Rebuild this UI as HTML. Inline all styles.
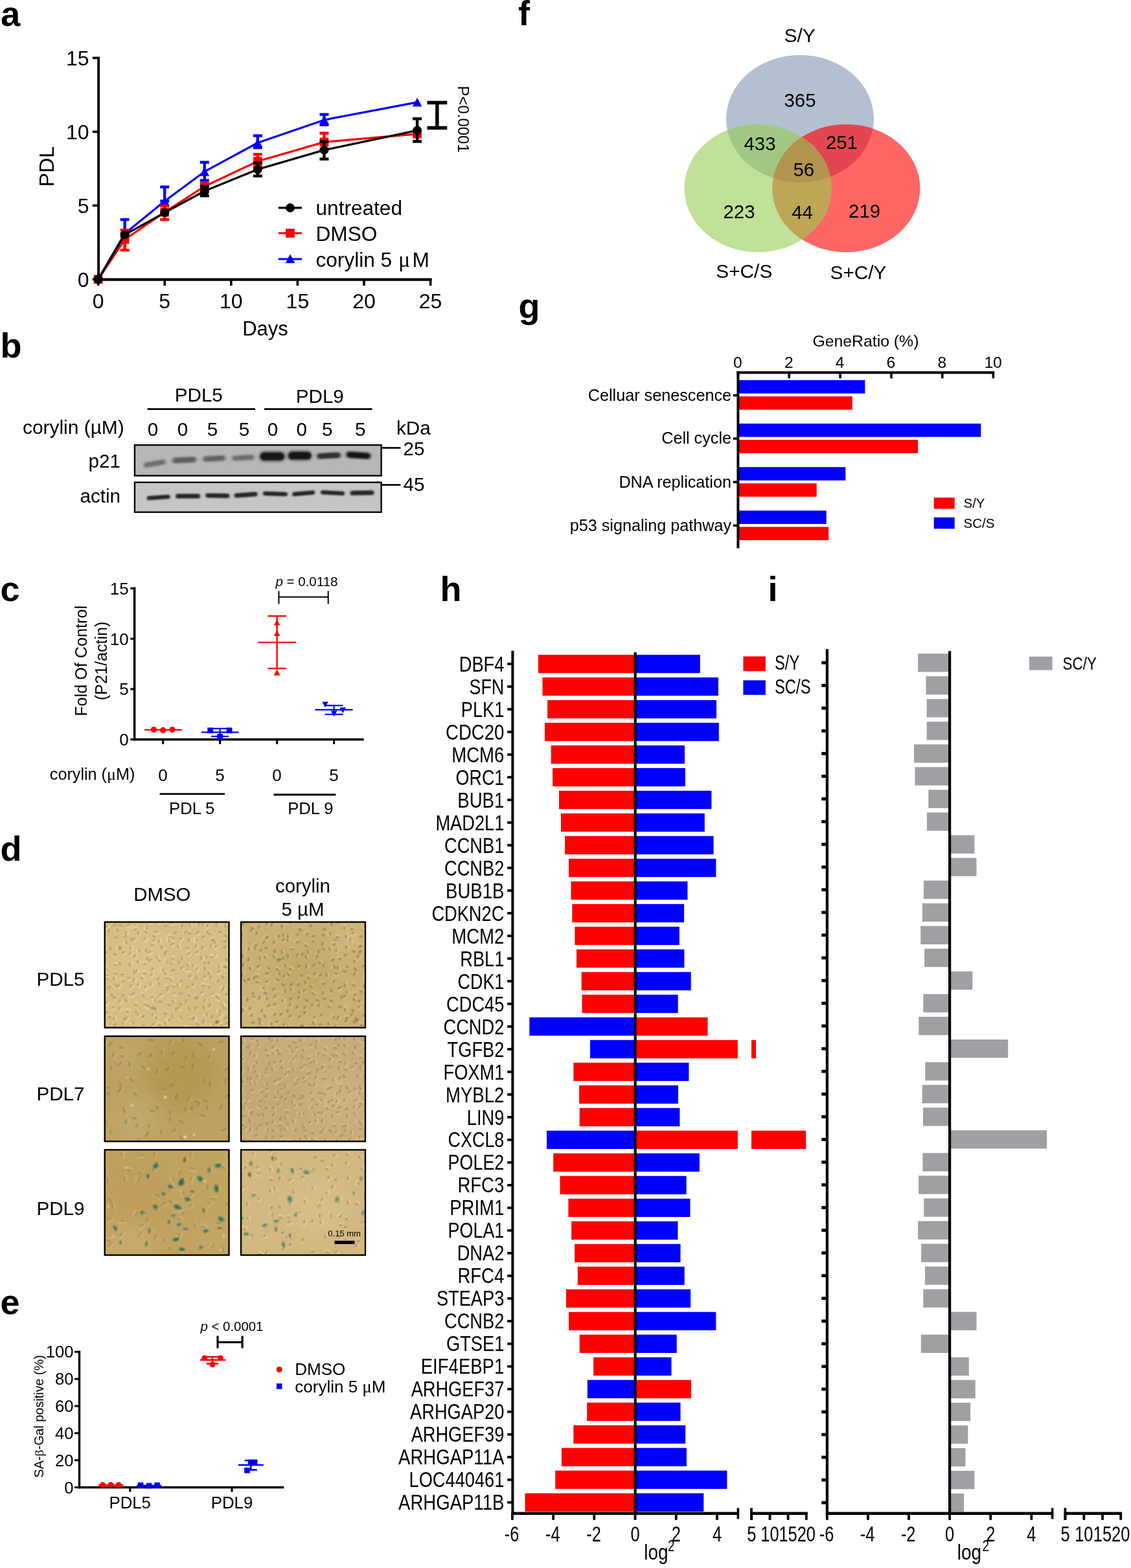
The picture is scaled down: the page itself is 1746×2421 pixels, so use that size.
<!DOCTYPE html>
<html lang="en"><head><meta charset="utf-8"><title>Figure</title>
<style>
html,body{margin:0;padding:0;background:#fff;}
body{width:1746px;height:2421px;overflow:hidden;}
svg{display:block;}
text{font-family:"Liberation Sans",sans-serif;fill:#000;}
</style></head><body>
<svg width="1746" height="2421" viewBox="0 0 1746 2421">
<defs>
<filter id="blur1" x="-30%" y="-100%" width="160%" height="300%"><feGaussianBlur stdDeviation="2.2 1.6"/></filter>
<filter id="blur2" x="-30%" y="-100%" width="160%" height="300%"><feGaussianBlur stdDeviation="1.6 1.1"/></filter>
<filter id="blurc" x="-5%" y="-5%" width="110%" height="110%"><feGaussianBlur stdDeviation="0.8"/></filter>
<filter id="blurc2" x="-5%" y="-5%" width="110%" height="110%"><feGaussianBlur stdDeviation="1.1"/></filter>
<filter id="blurc3" x="-5%" y="-5%" width="110%" height="110%"><feGaussianBlur stdDeviation="1.25"/></filter>
<filter id="blurbig" x="-50%" y="-50%" width="200%" height="200%"><feGaussianBlur stdDeviation="14"/></filter>
<filter id="noise" x="0" y="0" width="100%" height="100%">
<feTurbulence type="fractalNoise" baseFrequency="0.9" numOctaves="2" seed="3" result="n"/>
<feColorMatrix in="n" type="matrix" values="0 0 0 0 0  0 0 0 0 0  0 0 0 0 0  0.5 0.5 0 0 -0.42"/>
</filter>
<clipPath id="vtop"><ellipse cx="1235" cy="183.3" rx="114" ry="98.4"/></clipPath>
<clipPath id="vleft"><ellipse cx="1170.2" cy="290.7" rx="113.8" ry="98.8"/></clipPath>
<clipPath id="vright"><ellipse cx="1306.4" cy="290.7" rx="114" ry="98.8"/></clipPath>
</defs>

<text x="1" y="39.8" font-size="54.4" font-weight="bold">a</text>
<line x1="192.64" y1="339" x2="192.64" y2="360.65" stroke="#0000ff" stroke-width="4.4"/>
<line x1="185.64" y1="339" x2="199.64" y2="339" stroke="#0000ff" stroke-width="4.4"/>
<line x1="185.64" y1="360.65" x2="199.64" y2="360.65" stroke="#0000ff" stroke-width="4.4"/>
<line x1="254.2" y1="288.63" x2="254.2" y2="310.51" stroke="#0000ff" stroke-width="4.4"/>
<line x1="247.2" y1="288.63" x2="261.2" y2="288.63" stroke="#0000ff" stroke-width="4.4"/>
<line x1="247.2" y1="310.51" x2="261.2" y2="310.51" stroke="#0000ff" stroke-width="4.4"/>
<line x1="315.76" y1="250.58" x2="315.76" y2="278.61" stroke="#0000ff" stroke-width="4.4"/>
<line x1="308.76" y1="250.58" x2="322.76" y2="250.58" stroke="#0000ff" stroke-width="4.4"/>
<line x1="308.76" y1="278.61" x2="322.76" y2="278.61" stroke="#0000ff" stroke-width="4.4"/>
<line x1="397.84" y1="209.55" x2="397.84" y2="228.01" stroke="#0000ff" stroke-width="4.4"/>
<line x1="390.84" y1="209.55" x2="404.84" y2="209.55" stroke="#0000ff" stroke-width="4.4"/>
<line x1="390.84" y1="228.01" x2="404.84" y2="228.01" stroke="#0000ff" stroke-width="4.4"/>
<line x1="500.44" y1="176.74" x2="500.44" y2="192.69" stroke="#0000ff" stroke-width="4.4"/>
<line x1="493.44" y1="176.74" x2="507.44" y2="176.74" stroke="#0000ff" stroke-width="4.4"/>
<line x1="493.44" y1="192.69" x2="507.44" y2="192.69" stroke="#0000ff" stroke-width="4.4"/>
<polyline fill="none" stroke="#0000ff" stroke-width="3.2" stroke-linejoin="round" points="151.6,431.3 192.64,360.65 254.2,310.51 315.76,264.93 397.84,220.49 500.44,185.17 644.08,157.82"/>
<polygon points="151.6,424.17 144.3,438.04 158.9,438.04" fill="#0000ff"/>
<polygon points="192.64,353.52 185.34,367.39 199.94,367.39" fill="#0000ff"/>
<polygon points="254.2,303.38 246.9,317.25 261.5,317.25" fill="#0000ff"/>
<polygon points="315.76,257.8 308.46,271.67 323.06,271.67" fill="#0000ff"/>
<polygon points="397.84,213.36 390.54,227.23 405.14,227.23" fill="#0000ff"/>
<polygon points="500.44,178.04 493.14,191.91 507.74,191.91" fill="#0000ff"/>
<polygon points="644.08,150.69 636.78,164.56 651.38,164.56" fill="#0000ff"/>
<line x1="192.64" y1="355.18" x2="192.64" y2="386.18" stroke="#ff0000" stroke-width="4.4"/>
<line x1="185.64" y1="355.18" x2="199.64" y2="355.18" stroke="#ff0000" stroke-width="4.4"/>
<line x1="185.64" y1="386.18" x2="199.64" y2="386.18" stroke="#ff0000" stroke-width="4.4"/>
<line x1="254.2" y1="318.03" x2="254.2" y2="339" stroke="#ff0000" stroke-width="4.4"/>
<line x1="247.2" y1="318.03" x2="261.2" y2="318.03" stroke="#ff0000" stroke-width="4.4"/>
<line x1="247.2" y1="339" x2="261.2" y2="339" stroke="#ff0000" stroke-width="4.4"/>
<line x1="315.76" y1="283.85" x2="315.76" y2="296.84" stroke="#ff0000" stroke-width="4.4"/>
<line x1="308.76" y1="283.85" x2="322.76" y2="283.85" stroke="#ff0000" stroke-width="4.4"/>
<line x1="308.76" y1="296.84" x2="322.76" y2="296.84" stroke="#ff0000" stroke-width="4.4"/>
<line x1="397.84" y1="238.27" x2="397.84" y2="258.1" stroke="#ff0000" stroke-width="4.4"/>
<line x1="390.84" y1="238.27" x2="404.84" y2="238.27" stroke="#ff0000" stroke-width="4.4"/>
<line x1="390.84" y1="258.1" x2="404.84" y2="258.1" stroke="#ff0000" stroke-width="4.4"/>
<line x1="500.44" y1="205.68" x2="500.44" y2="230.75" stroke="#ff0000" stroke-width="4.4"/>
<line x1="493.44" y1="205.68" x2="507.44" y2="205.68" stroke="#ff0000" stroke-width="4.4"/>
<line x1="493.44" y1="230.75" x2="507.44" y2="230.75" stroke="#ff0000" stroke-width="4.4"/>
<polyline fill="none" stroke="#ff0000" stroke-width="3.2" stroke-linejoin="round" points="151.6,431.3 192.64,369.77 254.2,327.61 315.76,287.72 397.84,248.98 500.44,219.35 644.08,206.82"/>
<rect x="144.8" y="424.5" width="13.6" height="13.6" fill="#ff0000"/>
<rect x="185.84" y="362.97" width="13.6" height="13.6" fill="#ff0000"/>
<rect x="247.4" y="320.81" width="13.6" height="13.6" fill="#ff0000"/>
<rect x="308.96" y="280.92" width="13.6" height="13.6" fill="#ff0000"/>
<rect x="391.04" y="242.18" width="13.6" height="13.6" fill="#ff0000"/>
<rect x="493.64" y="212.55" width="13.6" height="13.6" fill="#ff0000"/>
<rect x="637.28" y="200.02" width="13.6" height="13.6" fill="#ff0000"/>
<line x1="315.76" y1="287.72" x2="315.76" y2="302.31" stroke="#000" stroke-width="4.4"/>
<line x1="308.76" y1="287.72" x2="322.76" y2="287.72" stroke="#000" stroke-width="4.4"/>
<line x1="308.76" y1="302.31" x2="322.76" y2="302.31" stroke="#000" stroke-width="4.4"/>
<line x1="397.84" y1="251.26" x2="397.84" y2="271.77" stroke="#000" stroke-width="4.4"/>
<line x1="390.84" y1="251.26" x2="404.84" y2="251.26" stroke="#000" stroke-width="4.4"/>
<line x1="390.84" y1="271.77" x2="404.84" y2="271.77" stroke="#000" stroke-width="4.4"/>
<line x1="500.44" y1="218.67" x2="500.44" y2="245.56" stroke="#000" stroke-width="4.4"/>
<line x1="493.44" y1="218.67" x2="507.44" y2="218.67" stroke="#000" stroke-width="4.4"/>
<line x1="493.44" y1="245.56" x2="507.44" y2="245.56" stroke="#000" stroke-width="4.4"/>
<line x1="644.08" y1="183.34" x2="644.08" y2="218.44" stroke="#000" stroke-width="4.4"/>
<line x1="637.08" y1="183.34" x2="651.08" y2="183.34" stroke="#000" stroke-width="4.4"/>
<line x1="637.08" y1="218.44" x2="651.08" y2="218.44" stroke="#000" stroke-width="4.4"/>
<polyline fill="none" stroke="#000" stroke-width="3.2" stroke-linejoin="round" points="151.6,431.3 192.64,362.47 254.2,328.29 315.76,295.02 397.84,261.51 500.44,231.66 644.08,201.35"/>
<circle cx="151.6" cy="431.3" r="6.9" fill="#000"/>
<circle cx="192.64" cy="362.47" r="6.9" fill="#000"/>
<circle cx="254.2" cy="328.29" r="6.9" fill="#000"/>
<circle cx="315.76" cy="295.02" r="6.9" fill="#000"/>
<circle cx="397.84" cy="261.51" r="6.9" fill="#000"/>
<circle cx="500.44" cy="231.66" r="6.9" fill="#000"/>
<circle cx="644.08" cy="201.35" r="6.9" fill="#000"/>
<line x1="152.1" y1="87.7" x2="152.1" y2="433.6" stroke="#000" stroke-width="3.9"/>
<line x1="150.1" y1="431.6" x2="666.6" y2="431.6" stroke="#000" stroke-width="4.1"/>
<line x1="142.8" y1="431.3" x2="152" y2="431.3" stroke="#000" stroke-width="3.6"/>
<text x="137.6" y="442.7" font-size="32" text-anchor="end">0</text>
<line x1="142.8" y1="317.35" x2="152" y2="317.35" stroke="#000" stroke-width="3.6"/>
<text x="137.6" y="328.75" font-size="32" text-anchor="end">5</text>
<line x1="142.8" y1="203.4" x2="152" y2="203.4" stroke="#000" stroke-width="3.6"/>
<text x="137.6" y="214.8" font-size="32" text-anchor="end">10</text>
<line x1="142.8" y1="89.45" x2="152" y2="89.45" stroke="#000" stroke-width="3.6"/>
<text x="137.6" y="100.85" font-size="32" text-anchor="end">15</text>
<line x1="151.6" y1="431" x2="151.6" y2="441" stroke="#000" stroke-width="3.6"/>
<text x="151.6" y="476" font-size="32" text-anchor="middle">0</text>
<line x1="254.2" y1="431" x2="254.2" y2="441" stroke="#000" stroke-width="3.6"/>
<text x="254.2" y="476" font-size="32" text-anchor="middle">5</text>
<line x1="356.8" y1="431" x2="356.8" y2="441" stroke="#000" stroke-width="3.6"/>
<text x="356.8" y="476" font-size="32" text-anchor="middle">10</text>
<line x1="459.4" y1="431" x2="459.4" y2="441" stroke="#000" stroke-width="3.6"/>
<text x="459.4" y="476" font-size="32" text-anchor="middle">15</text>
<line x1="562" y1="431" x2="562" y2="441" stroke="#000" stroke-width="3.6"/>
<text x="562" y="476" font-size="32" text-anchor="middle">20</text>
<line x1="664.6" y1="431" x2="664.6" y2="441" stroke="#000" stroke-width="3.6"/>
<text x="664.6" y="476" font-size="32" text-anchor="middle">25</text>
<text x="409.5" y="518" font-size="31" text-anchor="middle">Days</text>
<text transform="translate(83 257) rotate(-90)" font-size="32" text-anchor="middle">PDL</text>
<line x1="429.8" y1="320.9" x2="466" y2="320.9" stroke="#000" stroke-width="3.2"/>
<circle cx="448" cy="320.9" r="6.9" fill="#000"/>
<line x1="429.8" y1="360" x2="466" y2="360" stroke="#ff0000" stroke-width="3.2"/>
<rect x="441.2" y="353.2" width="13.6" height="13.6" fill="#ff0000"/>
<line x1="429.8" y1="400" x2="466" y2="400" stroke="#0000ff" stroke-width="3.2"/>
<polygon points="448,392.37 440.7,406.24 455.3,406.24" fill="#0000ff"/>
<text x="487.5" y="332.3" font-size="31.6">untreated</text>
<text x="487.5" y="371.6" font-size="31.6">DMSO</text>
<text x="487.5" y="411.8" font-size="31.6">corylin 5 <tspan dx="1.2" font-family='"Liberation Serif","DejaVu Serif",serif' font-size="34">μ</tspan><tspan dx="3.2">M</tspan></text>
<line x1="674.8" y1="158.5" x2="674.8" y2="197.5" stroke="#000" stroke-width="5.5"/>
<line x1="659.5" y1="158.5" x2="690.2" y2="158.5" stroke="#000" stroke-width="5.5"/>
<line x1="659.5" y1="197.5" x2="690.2" y2="197.5" stroke="#000" stroke-width="5.5"/>
<text transform="translate(706.5 132.6) rotate(90)" font-size="23.9">P&lt;0.0001</text>
<text x="0.5" y="551.8" font-size="54" font-weight="bold">b</text>
<text x="306.8" y="619.7" font-size="29.6" text-anchor="middle">PDL5</text>
<text x="493.8" y="622" font-size="29.6" text-anchor="middle">PDL9</text>
<line x1="227.5" y1="631.6" x2="394" y2="631.6" stroke="#000" stroke-width="2.6"/>
<line x1="408" y1="631.6" x2="574.4" y2="631.6" stroke="#000" stroke-width="2.6"/>
<text x="35" y="669.5" font-size="29.9">corylin (µM)</text>
<text x="236" y="673" font-size="29.6" text-anchor="middle">0</text>
<text x="282" y="673" font-size="29.6" text-anchor="middle">0</text>
<text x="328" y="673" font-size="29.6" text-anchor="middle">5</text>
<text x="377" y="673" font-size="29.6" text-anchor="middle">5</text>
<text x="421" y="673" font-size="29.6" text-anchor="middle">0</text>
<text x="465.7" y="673" font-size="29.6" text-anchor="middle">0</text>
<text x="505.3" y="673" font-size="29.6" text-anchor="middle">5</text>
<text x="556.3" y="673" font-size="29.6" text-anchor="middle">5</text>
<text x="612" y="670.8" font-size="29.6">kDa</text>
<text x="136.5" y="722" font-size="29.6">p21</text>
<text x="123.5" y="776" font-size="29.6">actin</text>
<clipPath id="bc1"><rect x="206.8" y="686" width="382.9" height="49.6"/></clipPath>
<rect x="206.8" y="686" width="382.9" height="49.6" fill="#b9b9b9"/>
<g clip-path="url(#bc1)">
<rect x="221.8" y="711.7" width="34" height="8" rx="4" fill="#555" opacity="0.75" transform="rotate(-10 238.8 715.7)" filter="url(#blur1)"/>
<rect x="266" y="705.8" width="37" height="9" rx="4.5" fill="#505050" opacity="0.85" transform="rotate(-3 284.5 710.3)" filter="url(#blur1)"/>
<rect x="313.2" y="703.75" width="35" height="8.5" rx="4.25" fill="#505050" opacity="0.8" transform="rotate(-3 330.7 708)" filter="url(#blur1)"/>
<rect x="358.4" y="702.7" width="34" height="8" rx="4" fill="#555" opacity="0.75" transform="rotate(-3 375.4 706.7)" filter="url(#blur1)"/>
<rect x="401.8" y="698.7" width="37" height="12" rx="6" fill="#000" opacity="1" transform="rotate(0 420.3 704.7)" filter="url(#blur2)"/>
<rect x="399.3" y="695.7" width="42" height="18" rx="9" fill="#333" opacity="0.45" transform="rotate(0 420.3 704.7)" filter="url(#blur1)"/>
<rect x="445.2" y="697.85" width="35" height="11.5" rx="5.75" fill="#000" opacity="1" transform="rotate(0 462.7 703.6)" filter="url(#blur2)"/>
<rect x="442.7" y="695.1" width="40" height="17" rx="8.5" fill="#333" opacity="0.45" transform="rotate(0 462.7 703.6)" filter="url(#blur1)"/>
<rect x="489.1" y="698.9" width="37" height="9" rx="4.5" fill="#222" opacity="0.9" transform="rotate(-3 507.6 703.4)" filter="url(#blur1)"/>
<rect x="534.3" y="697.9" width="38" height="10" rx="5" fill="#111" opacity="0.95" transform="rotate(4 553.3 702.9)" filter="url(#blur1)"/>
<rect x="206.8" y="686" width="382.9" height="49.6" filter="url(#noise)" fill="#000" opacity="0.16"/>
</g>
<rect x="207.95" y="687.15" width="380.6" height="47.3" fill="none" stroke="#000" stroke-width="2.3"/>
<clipPath id="bc2"><rect x="206.8" y="743.6" width="382.9" height="48.3"/></clipPath>
<rect x="206.8" y="743.6" width="382.9" height="48.3" fill="#c8c8c8"/>
<g clip-path="url(#bc2)">
<rect x="226.7" y="764.75" width="36" height="6.5" rx="3.25" fill="#262626" opacity="1" transform="rotate(-4 244.7 768)" filter="url(#blur2)"/>
<rect x="271.1" y="762.5" width="38" height="7" rx="3.5" fill="#262626" opacity="1" transform="rotate(0 290.1 766)" filter="url(#blur2)"/>
<rect x="317.3" y="761.7" width="37" height="7" rx="3.5" fill="#262626" opacity="1" transform="rotate(1 335.8 765.2)" filter="url(#blur2)"/>
<rect x="361.5" y="760.5" width="36" height="7" rx="3.5" fill="#262626" opacity="1" transform="rotate(-4 379.5 764)" filter="url(#blur2)"/>
<rect x="406" y="759.15" width="38" height="6.5" rx="3.25" fill="#262626" opacity="1" transform="rotate(2 425 762.4)" filter="url(#blur2)"/>
<rect x="451.1" y="758.45" width="35" height="6.5" rx="3.25" fill="#262626" opacity="1" transform="rotate(-5 468.6 761.7)" filter="url(#blur2)"/>
<rect x="495" y="757.65" width="37" height="6.5" rx="3.25" fill="#262626" opacity="1" transform="rotate(3 513.5 760.9)" filter="url(#blur2)"/>
<rect x="540.5" y="757.6" width="37" height="7" rx="3.5" fill="#262626" opacity="1" transform="rotate(-1 559 761.1)" filter="url(#blur2)"/>
<rect x="206.8" y="743.6" width="382.9" height="48.3" filter="url(#noise)" fill="#000" opacity="0.16"/>
</g>
<rect x="207.95" y="744.75" width="380.6" height="46" fill="none" stroke="#000" stroke-width="2.3"/>
<line x1="589.7" y1="691.5" x2="618.4" y2="691.5" stroke="#000" stroke-width="2.6"/>
<line x1="589.7" y1="748.7" x2="618.4" y2="748.7" stroke="#000" stroke-width="2.6"/>
<text x="622.5" y="702.5" font-size="29.6">25</text>
<text x="622.5" y="757.5" font-size="29.6">45</text>
<text x="0.5" y="927.5" font-size="54" font-weight="bold">c</text>
<line x1="207.6" y1="906.6" x2="207.6" y2="1143.4" stroke="#000" stroke-width="3.6"/>
<line x1="205.8" y1="1141.7" x2="561.6" y2="1141.7" stroke="#000" stroke-width="3.6"/>
<line x1="201.3" y1="1141.7" x2="207.4" y2="1141.7" stroke="#000" stroke-width="3.2"/>
<text x="198.6" y="1151" font-size="26" text-anchor="end">0</text>
<line x1="201.3" y1="1063.95" x2="207.4" y2="1063.95" stroke="#000" stroke-width="3.2"/>
<text x="198.6" y="1073.25" font-size="26" text-anchor="end">5</text>
<line x1="201.3" y1="986.2" x2="207.4" y2="986.2" stroke="#000" stroke-width="3.2"/>
<text x="198.6" y="995.5" font-size="26" text-anchor="end">10</text>
<line x1="201.3" y1="908.45" x2="207.4" y2="908.45" stroke="#000" stroke-width="3.2"/>
<text x="198.6" y="917.75" font-size="26" text-anchor="end">15</text>
<line x1="251.6" y1="1141.7" x2="251.6" y2="1149" stroke="#000" stroke-width="3"/>
<line x1="339.6" y1="1141.7" x2="339.6" y2="1149" stroke="#000" stroke-width="3"/>
<line x1="427.6" y1="1141.7" x2="427.6" y2="1149" stroke="#000" stroke-width="3"/>
<line x1="515.6" y1="1141.7" x2="515.6" y2="1149" stroke="#000" stroke-width="3"/>
<text transform="translate(134 1020.4) rotate(-90)" font-size="25.2" text-anchor="middle">Fold Of Control</text>
<text transform="translate(165.2 1020.4) rotate(-90)" font-size="25.2" text-anchor="middle">(P21/actin)</text>
<text x="425.5" y="905" font-size="20.5" font-family='"Liberation Sans",sans-serif'><tspan font-style="italic">p</tspan> = 0.0118</text>
<line x1="430.4" y1="921.8" x2="506.7" y2="921.8" stroke="#000" stroke-width="2"/>
<line x1="430.4" y1="912.6" x2="430.4" y2="932.6" stroke="#000" stroke-width="2"/>
<line x1="506.7" y1="912.6" x2="506.7" y2="932.6" stroke="#000" stroke-width="2"/>
<line x1="223" y1="1126.8" x2="281" y2="1126.8" stroke="#ff0000" stroke-width="2.2"/>
<circle cx="237.5" cy="1126.6" r="4.6" fill="#ff0000"/>
<circle cx="251.6" cy="1127.4" r="4.6" fill="#ff0000"/>
<circle cx="266" cy="1126.6" r="4.6" fill="#ff0000"/>
<line x1="311" y1="1130.7" x2="368.5" y2="1130.7" stroke="#0000ff" stroke-width="2.2"/>
<line x1="339.6" y1="1124.9" x2="339.6" y2="1137" stroke="#0000ff" stroke-width="2.2"/>
<line x1="326.1" y1="1124.9" x2="353.1" y2="1124.9" stroke="#0000ff" stroke-width="2.2"/>
<line x1="326.1" y1="1137" x2="353.1" y2="1137" stroke="#0000ff" stroke-width="2.2"/>
<rect x="320.3" y="1123.4" width="8.8" height="8.8" fill="#0000ff"/>
<rect x="349.6" y="1123.4" width="8.8" height="8.8" fill="#0000ff"/>
<rect x="335.2" y="1133.2" width="8.8" height="8.8" fill="#0000ff"/>
<line x1="398.3" y1="991.8" x2="457" y2="991.8" stroke="#ff0000" stroke-width="2.2"/>
<line x1="427.6" y1="951.2" x2="427.6" y2="1032.1" stroke="#ff0000" stroke-width="2.4"/>
<line x1="413.35" y1="951.2" x2="441.85" y2="951.2" stroke="#ff0000" stroke-width="2.4"/>
<line x1="413.35" y1="1032.1" x2="441.85" y2="1032.1" stroke="#ff0000" stroke-width="2.4"/>
<polygon points="427.6,956.48 422.8,965.6 432.4,965.6" fill="#ff0000"/>
<polygon points="427.6,972.78 422.8,981.9 432.4,981.9" fill="#ff0000"/>
<polygon points="427.6,1033.58 422.8,1042.7 432.4,1042.7" fill="#ff0000"/>
<line x1="486.3" y1="1095.9" x2="544.6" y2="1095.9" stroke="#0000ff" stroke-width="2.2"/>
<line x1="515.6" y1="1089.3" x2="515.6" y2="1103" stroke="#0000ff" stroke-width="2.2"/>
<line x1="501.6" y1="1089.3" x2="529.6" y2="1089.3" stroke="#0000ff" stroke-width="2.2"/>
<line x1="501.6" y1="1103" x2="529.6" y2="1103" stroke="#0000ff" stroke-width="2.2"/>
<polygon points="502,1092.52 497.2,1083.4 506.8,1083.4" fill="#0000ff"/>
<polygon points="529.3,1101.32 524.5,1092.2 534.1,1092.2" fill="#0000ff"/>
<polygon points="515.6,1106.52 510.8,1097.4 520.4,1097.4" fill="#0000ff"/>
<text x="76.8" y="1204.3" font-size="25.2">corylin (<tspan font-family='"Liberation Serif","DejaVu Serif",serif' font-size="26">μ</tspan>M)</text>
<text x="251.6" y="1206.2" font-size="26" text-anchor="middle">0</text>
<text x="339.6" y="1206.2" font-size="26" text-anchor="middle">5</text>
<text x="427.6" y="1206.2" font-size="26" text-anchor="middle">0</text>
<text x="515.6" y="1206.2" font-size="26" text-anchor="middle">5</text>
<line x1="246.5" y1="1225.8" x2="347" y2="1225.8" stroke="#000" stroke-width="2.8"/>
<line x1="422.5" y1="1227" x2="518.4" y2="1227" stroke="#000" stroke-width="2.8"/>
<text x="296.2" y="1257" font-size="25.6" text-anchor="middle">PDL 5</text>
<text x="479.3" y="1257" font-size="25.6" text-anchor="middle">PDL 9</text>
<text x="0.5" y="1328.8" font-size="54" font-weight="bold">d</text>
<text x="250.4" y="1390.7" font-size="29.4" text-anchor="middle">DMSO</text>
<text x="467.5" y="1377.8" font-size="29.4" text-anchor="middle">corylin</text>
<text x="467.5" y="1414.2" font-size="29.4" text-anchor="middle">5 µM</text>
<text x="56.5" y="1521.8" font-size="29.6">PDL5</text>
<text x="56.5" y="1698.6" font-size="29.6">PDL7</text>
<text x="56.5" y="1875.5" font-size="29.6">PDL9</text>
<clipPath id="pc1"><rect x="160.6" y="1422.5" width="194" height="165.3"/></clipPath>
<rect x="160.6" y="1422.5" width="194" height="165.3" fill="#d9c086"/>
<g clip-path="url(#pc1)">
<circle cx="220.6" cy="1482.5" r="40" fill="#dfca94" opacity="0.5" filter="url(#blurbig)"/>
<circle cx="310.6" cy="1542.5" r="40" fill="#d2ba80" opacity="0.5" filter="url(#blurbig)"/>
<g filter="url(#blurc)" fill="none" stroke-linecap="round">
<path d="M161.7 1490.5l1.0 -1.6M165.7 1505.3l-1.9 -0.2M166.2 1510.7l-1.3 -0.2M164.9 1562.2l-1.5 0.3M162.1 1583.0l-0.0 -1.1M178.4 1474.7l-1.7 -0.6M179.2 1489.0l-1.6 0.0M178.6 1502.2l-1.3 0.2M173.4 1556.2l1.6 -0.5M177.0 1573.6l-0.2 -1.1M194.6 1456.5l-0.4 -1.9M186.5 1465.0l0.2 -1.9M189.5 1471.3l1.8 -1.0M189.2 1504.1l-1.7 0.2M189.0 1514.2l1.6 -0.5M183.6 1522.4l0.8 -1.0M191.5 1536.6l-1.3 -1.4M191.0 1574.6l0.7 -1.9M190.7 1580.8l-0.4 -1.3M195.3 1440.6l0.1 -1.2M203.0 1452.5l-0.9 -1.8M202.0 1464.1l0.2 -1.7M201.1 1472.5l0.9 -1.3M201.5 1536.8l1.1 -0.3M197.5 1561.2l-1.3 -0.1M209.7 1434.3l-2.0 0.4M213.2 1441.6l0.9 -1.4M206.7 1450.7l1.5 -0.7M213.3 1485.1l-0.6 -1.5M206.6 1513.8l0.6 -1.8M210.6 1550.5l-1.4 -0.3M210.6 1562.8l-0.2 -1.4M225.7 1433.4l0.3 -1.2M226.3 1480.0l0.9 -1.2M224.1 1487.6l-1.8 0.4M220.2 1510.5l-1.2 -1.5M221.9 1537.0l-1.0 -0.5M219.8 1570.3l1.8 -0.8M231.4 1423.8l0.9 -0.8M238.7 1445.2l-1.6 -0.5M237.0 1453.1l1.2 -0.8M234.2 1460.5l1.5 -1.0M235.5 1538.5l-1.2 0.0M235.8 1567.6l0.5 -1.1M236.2 1582.3l1.4 -1.3M243.8 1424.7l1.1 -1.3M243.0 1511.0l1.1 -1.0M244.7 1519.6l-0.2 -1.6M241.3 1561.1l-0.3 -1.8M241.9 1572.0l0.1 -1.3M247.7 1582.3l-1.6 -0.5M260.7 1446.5l1.5 -0.5M257.2 1524.1l1.7 -1.2M257.7 1529.6l1.2 -0.9M259.7 1575.0l0.7 -1.1M265.3 1425.7l1.2 -0.5M267.2 1449.5l-1.2 -1.0M265.2 1458.6l1.4 -0.8M267.3 1479.7l-1.5 -0.4M268.1 1498.4l-1.9 0.3M264.9 1512.5l-1.1 -0.9M268.3 1534.5l1.1 -0.3M280.1 1429.9l0.6 -2.0M279.0 1449.8l1.1 -0.9M275.8 1461.8l-0.7 -1.7M281.7 1480.3l-0.6 -1.7M274.6 1521.6l0.3 -1.6M279.9 1535.0l-2.1 0.0M279.3 1550.6l-0.8 -1.4M274.9 1557.3l1.3 -0.7M293.7 1428.6l-0.0 -1.2M291.6 1452.1l0.1 -2.0M290.9 1473.4l1.4 -1.2M293.3 1508.2l1.3 -1.6M292.8 1537.0l-1.6 -0.7M288.9 1587.2l-1.9 -0.4M302.8 1461.6l0.4 -1.7M297.7 1521.2l1.3 -1.1M313.7 1447.3l1.4 -0.6M315.3 1485.7l1.1 -0.5M315.9 1509.1l1.2 -1.1M314.9 1521.2l-1.3 0.0M311.1 1533.4l1.7 -1.2M316.1 1545.3l0.5 -1.3M315.1 1556.3l-0.8 -1.8M319.9 1429.8l1.1 -1.5M326.8 1451.0l1.2 -0.6M328.1 1476.9l-1.3 -0.1M322.6 1487.9l0.8 -1.5M325.6 1510.5l0.5 -1.5M323.7 1523.3l-1.4 0.0M326.6 1535.6l1.6 -0.7M323.0 1554.4l1.2 -0.4M339.3 1439.9l1.9 -0.8M332.2 1462.7l1.5 -0.9M335.7 1514.8l0.3 -1.1M335.6 1538.2l-1.1 -0.8M337.4 1542.5l-1.2 -0.4M338.0 1561.3l0.3 -1.3M340.7 1582.9l0.9 -0.7M349.4 1445.9l-1.1 -1.7M346.9 1452.1l-1.4 0.2M346.9 1463.9l0.5 -1.2M349.3 1492.6l-1.6 -1.0M345.4 1526.1l0.8 -1.8M349.9 1536.4l1.6 -0.9M347.4 1556.3l-1.0 -0.6" stroke="#a38a54" stroke-width="3.2" opacity="0.9"/>
<path d="M164.6 1431.5l0.9 -1.4M166.8 1437.8l0.1 -1.7M160.7 1453.7l-0.5 -1.4M169.2 1465.3l0.5 -1.9M162.4 1472.3l1.9 -0.7M169.5 1523.3l-1.2 0.1M163.4 1538.9l-1.0 -1.0M163.6 1550.0l1.0 -1.7M170.2 1570.1l-1.3 -0.3M175.1 1427.9l1.4 -1.5M180.6 1437.1l-0.4 -1.1M179.9 1448.3l-1.8 0.5M182.9 1464.0l0.4 -1.9M177.0 1511.7l-0.2 -1.9M178.9 1522.8l-1.2 -1.3M173.9 1536.2l-0.9 -1.1M176.0 1541.2l1.3 -0.4M176.1 1582.0l1.0 -1.1M186.9 1430.0l-1.5 -0.3M192.8 1445.8l1.0 -1.5M185.7 1487.4l-1.7 -0.9M185.0 1546.9l0.9 -0.9M184.6 1557.8l0.8 -1.1M198.2 1429.3l1.6 -0.8M200.9 1490.3l-0.1 -2.1M205.8 1502.3l0.2 -1.8M198.2 1511.3l1.6 -0.6M201.9 1523.5l1.5 -1.5M195.4 1545.7l-0.2 -2.1M194.8 1573.2l1.1 -1.4M204.5 1580.3l-0.4 -1.4M214.4 1468.5l-0.3 -1.8M207.9 1476.9l0.6 -1.2M211.1 1499.9l0.6 -1.7M213.7 1521.1l0.5 -1.1M206.5 1534.7l0.7 -1.1M213.1 1567.1l0.9 -1.0M211.9 1586.8l-1.0 -0.5M226.5 1439.0l-1.3 -0.4M223.3 1450.3l1.3 -1.3M224.4 1468.0l0.5 -2.0M224.0 1501.9l-1.3 0.2M224.5 1525.2l0.8 -0.8M225.9 1550.5l-1.8 -0.7M229.1 1554.9l-1.7 -0.9M221.3 1583.7l1.2 -0.5M229.8 1471.1l1.8 -0.8M230.9 1483.1l1.4 -0.7M235.1 1497.5l1.5 -1.5M233.6 1506.2l1.1 -1.1M233.5 1520.4l0.1 -1.2M238.5 1545.4l-0.2 -1.2M233.5 1557.5l1.0 -0.8M240.8 1440.2l1.5 -0.8M246.4 1453.2l-0.4 -1.6M248.6 1463.9l-0.2 -1.8M242.9 1477.7l-0.4 -1.1M246.1 1484.8l-1.4 -1.1M250.6 1497.8l0.2 -1.2M247.6 1536.7l1.7 -1.1M248.4 1545.9l-2.0 0.1M256.5 1428.5l-1.4 -0.1M260.5 1452.3l0.5 -1.7M255.2 1468.4l1.6 -0.9M255.3 1473.3l0.6 -1.5M256.3 1485.0l0.6 -1.0M256.8 1503.6l-1.0 -1.4M259.2 1509.8l-1.9 -0.0M262.0 1550.8l-1.5 -0.2M256.3 1564.5l-1.4 -0.5M256.8 1581.1l-1.1 -1.7M270.3 1440.9l1.4 -1.2M266.0 1487.8l-1.2 -1.2M268.9 1522.3l-1.2 -0.3M267.5 1546.9l-0.8 -1.1M271.0 1559.7l-0.3 -1.7M266.2 1568.9l0.0 -1.3M266.3 1587.3l-0.5 -1.0M285.5 1439.7l0.2 -1.3M276.9 1486.7l0.2 -1.8M280.7 1495.4l1.1 -1.3M278.8 1514.3l0.7 -0.9M278.9 1572.4l-0.9 -1.0M278.9 1586.5l-1.1 -0.9M293.6 1440.9l-1.4 -0.8M288.4 1465.5l1.7 -0.5M290.7 1490.5l-0.6 -1.0M290.6 1497.4l-1.2 0.2M288.9 1525.5l1.5 -0.8M287.4 1547.2l0.7 -1.6M291.3 1558.2l-0.4 -1.5M296.2 1572.3l1.5 -1.1M305.9 1426.6l0.8 -1.8M304.6 1441.3l1.7 -0.9M302.8 1451.7l-0.0 -1.3M303.0 1471.6l1.8 -0.9M298.6 1491.7l0.3 -1.2M303.7 1497.9l0.8 -1.1M304.2 1510.3l-0.1 -1.8M300.9 1540.1l1.3 -1.0M304.2 1542.4l1.3 -1.5M302.1 1557.4l1.4 -1.5M300.2 1572.9l0.4 -1.4M306.2 1581.5l-1.0 -0.9M314.5 1426.9l0.0 -1.1M318.9 1438.2l1.0 -1.0M312.0 1464.0l1.1 -1.7M317.8 1479.1l-0.4 -1.8M315.0 1496.8l-0.3 -2.0M318.4 1567.1l-0.4 -1.8M314.5 1578.4l0.6 -1.9M324.4 1441.8l-1.0 -0.7M326.7 1461.7l-0.1 -1.8M323.3 1502.6l-0.7 -1.0M324.7 1550.8l-0.2 -1.4M325.8 1570.0l0.8 -1.5M328.5 1583.7l-0.2 -1.5M334.9 1427.7l0.2 -1.3M332.4 1455.1l-0.7 -1.8M331.9 1475.3l0.6 -1.3M339.3 1492.3l-0.2 -1.7M336.7 1501.3l1.8 -0.8M342.5 1527.5l0.9 -1.1M339.2 1568.3l1.3 -1.4M347.6 1431.5l-0.7 -1.3M350.8 1481.4l-1.6 -0.9M347.3 1494.6l-1.6 -0.2M345.3 1509.0l-1.1 -1.2M345.1 1552.1l-1.0 -1.2M347.9 1573.0l1.5 -1.2M350.0 1581.2l0.8 -1.1" stroke="#a38a54" stroke-width="4" opacity="0.69"/>
<path d="M165.3 1434.2l3.0 -4.6M163.1 1454.2l-1.4 -3.9M162.7 1492.8l2.5 -4.0M167.0 1503.3l-4.1 -0.5M168.7 1508.9l-5.6 -0.9M165.6 1538.2l-2.4 -2.5M164.2 1553.0l3.4 -5.5M173.0 1427.1l2.5 -2.8M180.3 1465.8l1.5 -6.3M181.4 1486.9l-6.1 0.0M179.3 1500.0l-3.2 0.4M179.3 1513.4l-0.5 -5.7M172.8 1558.5l3.9 -1.2M179.3 1574.6l-0.8 -3.9M193.0 1459.0l-1.4 -6.0M186.7 1512.7l4.9 -1.6M183.6 1525.8l4.1 -5.3M185.0 1549.9l4.0 -3.9M185.3 1560.5l2.8 -3.9M193.0 1581.4l-1.0 -3.6M197.3 1432.1l5.2 -2.6M197.1 1443.1l0.7 -5.8M203.9 1466.0l0.5 -4.9M202.0 1475.0l2.7 -3.9M197.5 1513.8l4.6 -1.8M202.2 1526.1l3.8 -3.8M199.8 1539.5l5.7 -1.8M200.5 1559.5l-6.7 -0.8M195.4 1576.0l3.3 -4.4M202.7 1581.8l-0.9 -3.2M211.6 1431.9l-6.5 1.2M205.8 1453.5l5.1 -2.5M212.6 1470.0l-0.8 -4.0M212.6 1502.0l1.6 -4.8M208.3 1515.5l1.3 -3.8M214.4 1524.4l2.9 -6.0M212.2 1548.7l-3.7 -0.8M213.6 1569.7l3.1 -3.4M223.4 1433.9l1.0 -3.3M223.5 1453.2l4.0 -4.1M224.9 1485.3l-4.3 0.9M224.8 1499.7l-3.6 0.4M223.1 1510.8l-3.9 -4.6M224.1 1528.7l4.8 -4.9M227.5 1548.9l-3.6 -1.3M230.0 1557.7l-5.5 -2.8M220.9 1586.1l3.7 -1.6M231.1 1426.9l4.4 -4.0M236.9 1455.7l3.6 -2.4M228.8 1473.8l5.4 -2.3M236.2 1499.5l2.3 -2.3M233.6 1509.1l4.0 -4.0M235.4 1522.7l0.6 -5.3M236.7 1547.5l-0.7 -4.9M237.2 1569.7l1.5 -3.6M236.1 1585.2l4.4 -4.1M244.7 1426.9l2.5 -2.9M240.1 1442.9l4.8 -2.6M249.0 1455.0l-1.6 -6.2M245.5 1478.7l-1.8 -4.6M248.2 1500.2l0.9 -6.6M247.6 1539.2l3.8 -2.4M243.6 1561.6l-0.6 -3.5M250.8 1581.1l-6.6 -2.1M257.9 1445.2l5.8 -1.9M258.1 1453.3l1.4 -5.0M253.2 1467.2l3.6 -2.0M253.6 1485.6l2.5 -4.2M259.2 1503.4l-2.6 -3.5M260.4 1507.7l-4.2 -0.1M255.5 1522.7l2.8 -1.9M258.1 1532.0l3.0 -2.2M256.6 1576.0l3.5 -5.3M259.4 1581.2l-2.7 -4.2M264.5 1428.3l4.3 -1.7M267.7 1452.7l-5.0 -4.2M265.5 1460.8l2.9 -1.6M269.0 1478.0l-3.8 -1.0M268.0 1486.9l-2.4 -2.3M267.5 1511.9l-3.6 -3.0M270.5 1520.6l-3.4 -0.9M267.2 1537.0l4.4 -1.3M279.0 1452.6l4.0 -3.4M278.5 1463.0l-2.1 -5.5M281.5 1497.7l2.7 -3.1M276.5 1522.9l0.6 -3.6M274.7 1559.8l3.7 -2.0M278.3 1574.8l-2.6 -2.9M295.8 1429.9l-0.0 -3.9M287.9 1467.8l3.9 -1.2M291.2 1475.9l3.4 -2.9M293.2 1490.5l-1.9 -3.2M293.6 1498.9l-6.4 1.2M294.3 1510.3l2.4 -3.0M291.4 1585.6l-6.2 -1.2M303.3 1427.2l2.1 -4.6M304.9 1443.5l3.1 -1.7M300.8 1454.4l-0.2 -6.6M304.6 1462.9l0.8 -3.1M302.6 1474.1l4.4 -2.2M300.3 1493.8l1.0 -4.5M303.9 1501.3l3.8 -5.6M297.2 1524.4l5.2 -4.4M301.4 1576.2l2.0 -6.7M316.5 1429.4l0.2 -6.1M316.0 1438.2l3.6 -3.8M315.9 1480.2l-0.7 -3.2M316.3 1511.6l3.1 -2.8M316.9 1519.1l-5.2 0.0M311.1 1536.0l4.1 -3.0M316.6 1568.8l-1.0 -4.3M328.9 1462.4l-0.2 -3.3M330.6 1475.0l-6.0 -0.5M326.3 1538.0l3.7 -1.6M322.2 1556.8l4.0 -1.2M326.6 1585.3l-0.6 -4.1M332.2 1465.2l3.9 -2.4M333.0 1477.9l2.2 -4.8M341.8 1494.5l-1.0 -6.7M335.2 1504.2l6.3 -2.7M339.9 1527.4l2.8 -3.5M338.9 1537.9l-5.4 -3.7M338.6 1545.0l-5.0 -1.4M335.5 1562.7l1.3 -5.1M339.0 1571.6l4.7 -5.1M337.5 1582.9l4.6 -3.9M347.8 1449.8l-3.8 0.6M347.8 1496.8l-3.2 -0.5M346.7 1528.5l2.0 -4.8M348.7 1539.5l6.0 -3.4M348.0 1552.4l-3.8 -4.4M350.1 1584.7l4.1 -5.5" stroke="#f9e9b4" stroke-width="2" opacity="0.94"/>
<path d="M164.7 1438.5l0.1 -3.4M166.9 1465.9l1.1 -4.1M161.9 1474.7l4.4 -1.7M171.1 1521.1l-4.7 0.4M167.2 1559.7l-6.7 1.1M173.1 1568.6l-6.2 -1.3M164.2 1584.5l-0.1 -4.3M179.4 1440.4l-2.1 -6.3M182.1 1449.8l-5.1 1.4M179.4 1477.3l-5.3 -1.9M178.5 1525.4l-3.5 -3.7M176.6 1536.1l-3.1 -3.7M175.7 1543.5l3.2 -1.0M173.4 1581.9l3.6 -3.7M188.3 1432.4l-4.8 -0.9M190.4 1445.5l2.2 -3.3M188.5 1465.9l0.3 -3.3M188.8 1474.1l5.2 -2.8M188.5 1486.5l-5.3 -2.8M191.4 1501.8l-6.4 0.7M194.2 1536.5l-3.8 -4.0M188.7 1574.9l1.4 -3.8M201.6 1454.3l-1.9 -3.5M203.1 1491.5l-0.2 -4.7M203.6 1503.6l0.4 -4.7M197.6 1547.0l-0.6 -5.1M213.7 1444.7l3.4 -5.3M209.0 1479.7l2.3 -5.1M215.8 1485.9l-1.7 -4.5M207.5 1537.0l2.3 -3.7M212.9 1564.1l-0.8 -4.8M215.0 1585.9l-5.5 -2.5M229.4 1437.7l-5.7 -1.9M221.8 1469.5l1.6 -6.0M223.9 1479.6l2.3 -3.0M225.5 1536.6l-6.1 -3.3M219.2 1572.9l4.6 -2.0M240.7 1443.6l-4.5 -1.3M234.2 1463.0l3.7 -2.4M231.0 1485.4l3.1 -1.5M238.3 1536.4l-6.8 0.0M232.5 1561.0l5.4 -4.4M246.6 1465.0l-0.4 -3.4M245.4 1486.9l-2.7 -2.2M240.9 1510.1l2.6 -2.3M242.8 1521.5l-0.5 -5.1M249.0 1543.8l-3.6 0.3M243.9 1574.3l0.4 -5.7M258.0 1426.4l-4.3 -0.2M256.9 1474.9l1.3 -3.1M263.6 1549.0l-4.1 -0.6M258.5 1563.1l-4.4 -1.6M270.9 1443.2l2.9 -2.4M270.3 1500.3l-5.8 0.8M270.1 1546.8l-2.8 -3.6M269.3 1561.9l-1.0 -5.3M268.3 1570.6l0.0 -4.7M268.9 1587.6l-1.9 -3.6M277.6 1431.0l1.6 -5.3M283.0 1441.5l1.1 -5.7M284.2 1481.1l-1.7 -4.8M278.7 1489.2l0.7 -6.3M276.1 1514.5l2.9 -3.7M281.2 1537.1l-4.7 0.0M281.6 1550.5l-1.7 -3.2M281.8 1586.1l-4.1 -3.4M295.6 1439.6l-3.5 -1.9M293.6 1454.2l0.3 -6.1M288.7 1528.0l4.1 -2.2M295.8 1536.0l-5.8 -2.6M289.0 1548.8l1.3 -3.0M289.6 1560.1l-1.1 -4.3M293.5 1571.7l4.6 -3.3M306.3 1511.8l-0.2 -4.9M298.5 1539.3l3.6 -2.7M304.4 1545.3l4.0 -4.4M302.8 1559.7l3.0 -3.2M308.9 1581.1l-3.5 -3.1M313.2 1449.8l4.0 -1.7M313.3 1465.8l2.0 -3.0M311.8 1485.0l6.2 -2.9M313.1 1498.5l-0.7 -5.0M317.6 1547.4l1.6 -4.1M317.5 1556.5l-1.7 -3.9M315.7 1581.3l2.2 -6.4M320.0 1433.1l4.2 -5.5M326.9 1441.1l-3.6 -2.6M323.4 1450.3l6.2 -3.0M323.6 1490.6l2.5 -4.7M326.5 1503.3l-3.5 -4.8M326.7 1513.8l2.3 -6.5M325.8 1521.2l-5.9 0.1M327.1 1552.0l-0.7 -4.5M323.4 1569.9l1.9 -3.3M336.7 1429.9l0.8 -5.1M339.3 1442.2l3.3 -1.3M334.9 1455.9l-1.9 -5.0M333.1 1516.4l1.2 -5.3M347.0 1434.7l-3.1 -5.8M352.2 1446.3l-3.1 -4.9M348.1 1466.5l2.1 -4.8M352.9 1480.2l-3.9 -2.2M352.6 1492.2l-5.7 -3.7M347.8 1508.6l-2.8 -3.1M350.3 1555.5l-4.6 -2.7M348.7 1575.1l2.7 -2.3" stroke="#f9e9b4" stroke-width="1.5" opacity="0.77"/>
</g>
<g filter="url(#blurc2)">
<ellipse cx="310.84" cy="1478.86" rx="3.64" ry="2.07" fill="#9aa57c" opacity="0.7" transform="rotate(90.54 310.84 1478.86)"/>
<path d="M314.2 1476.8l-0.0 4.0" stroke="#f9e9b4" stroke-width="1.3" opacity="0.7" stroke-linecap="round"/>
<ellipse cx="238.04" cy="1557.17" rx="3.9" ry="2.09" fill="#7a8f68" opacity="0.85" transform="rotate(35.37 238.04 1557.17)"/>
<path d="M238.5 1559.0l3.3 2.3" stroke="#f9e9b4" stroke-width="1.3" opacity="0.7" stroke-linecap="round"/>
<ellipse cx="335.28" cy="1577.67" rx="3.12" ry="2.12" fill="#5a5f3c" opacity="0.9" transform="rotate(150.15 335.28 1577.67)"/>
<path d="M338.5 1574.2l-3.5 2.0" stroke="#f9e9b4" stroke-width="1.3" opacity="0.7" stroke-linecap="round"/>
</g>
<rect x="160.6" y="1422.5" width="194" height="165.3" filter="url(#noise)" fill="#5a4a20" opacity="0.18"/>
</g>
<rect x="161.75" y="1423.65" width="191.7" height="163" fill="none" stroke="#000" stroke-width="2.3"/>
<clipPath id="pc2"><rect x="370.9" y="1422.5" width="194.2" height="165.3"/></clipPath>
<rect x="370.9" y="1422.5" width="194.2" height="165.3" fill="#cdb376"/>
<g clip-path="url(#pc2)">
<circle cx="470.9" cy="1502.5" r="45" fill="#c4a968" opacity="0.7" filter="url(#blurbig)"/>
<circle cx="400.9" cy="1562.5" r="35" fill="#d6c088" opacity="0.5" filter="url(#blurbig)"/>
<circle cx="540.9" cy="1452.5" r="30" fill="#d6c088" opacity="0.5" filter="url(#blurbig)"/>
<g filter="url(#blurc)" fill="none" stroke-linecap="round">
<path d="M375.4 1426.4l-1.9 0.5M382.9 1466.4l0.1 -1.8M375.3 1476.8l-0.3 -2.0M374.5 1505.6l-0.3 -2.0M377.8 1515.4l-1.3 -1.2M371.8 1565.0l1.2 -1.0M379.6 1587.3l-1.3 0.0M390.8 1433.0l-1.5 -1.0M388.1 1437.4l0.9 -1.6M393.7 1459.6l1.5 -1.1M392.4 1465.0l0.1 -1.6M390.9 1534.8l0.2 -1.4M391.5 1539.7l1.2 -0.4M387.2 1567.7l1.5 -1.1M400.6 1431.7l0.3 -1.2M396.6 1441.4l0.4 -1.3M401.9 1480.0l-0.4 -1.8M397.6 1506.8l-1.2 -0.0M398.2 1516.4l-1.5 -0.8M406.6 1526.4l-0.8 -1.5M403.2 1560.8l0.3 -1.5M412.3 1427.2l0.4 -1.3M411.6 1448.6l1.3 -0.7M410.2 1478.3l-0.9 -1.0M414.8 1495.8l-1.1 -1.7M411.5 1516.5l1.1 -0.6M411.4 1542.3l0.1 -1.2M417.8 1581.9l0.3 -1.9M419.9 1428.4l0.0 -1.5M422.7 1455.9l1.1 -1.2M423.8 1477.3l-0.6 -1.0M429.0 1513.9l-1.5 -0.6M422.9 1566.6l1.2 -1.1M438.0 1444.7l-0.3 -2.1M437.0 1452.2l1.2 -0.7M435.9 1470.8l-0.2 -1.8M439.3 1491.8l-0.4 -1.5M438.7 1508.2l1.0 -1.6M436.9 1545.7l-0.1 -1.5M433.5 1566.8l1.2 -1.3M452.1 1465.1l-1.3 -0.1M449.1 1496.1l-1.0 -0.6M449.8 1529.3l0.5 -1.7M459.3 1443.9l1.3 -0.6M458.1 1454.7l1.7 -0.9M459.3 1475.5l0.8 -1.7M466.0 1507.2l-1.4 -0.3M459.8 1520.2l1.4 -1.0M461.6 1540.5l0.2 -1.3M463.9 1584.7l0.5 -1.6M472.9 1424.4l-1.2 -1.0M473.1 1459.9l-1.4 -0.6M477.3 1509.4l-1.4 -0.4M485.4 1444.4l-1.9 0.5M482.7 1453.5l1.0 -0.6M488.1 1477.7l0.6 -1.9M485.1 1534.2l-1.4 -1.0M481.6 1552.3l0.8 -1.1M485.4 1571.3l1.0 -0.9M500.0 1443.7l-1.3 -1.1M500.5 1465.9l-0.6 -1.9M495.1 1486.4l-1.6 -1.1M498.1 1491.3l0.6 -1.8M494.1 1506.4l1.6 -0.7M499.2 1534.4l0.0 -1.7M495.2 1568.1l1.4 -1.1M493.4 1583.1l1.6 -0.5M509.9 1465.4l-0.6 -1.1M514.4 1515.4l0.7 -1.1M512.6 1545.2l-1.7 -1.1M508.8 1554.1l-1.4 -0.5M514.0 1570.7l1.1 -1.0M521.8 1446.6l-2.0 0.4M517.2 1452.8l1.3 -0.5M519.4 1468.3l0.5 -1.1M525.1 1479.6l-1.5 0.4M519.8 1504.2l-1.7 -0.1M523.7 1526.6l0.8 -0.8M518.9 1584.7l-0.1 -1.3M532.4 1433.1l-0.7 -1.1M534.7 1446.8l-0.1 -1.9M540.9 1451.3l-0.7 -1.2M535.2 1463.2l0.1 -1.5M533.0 1475.6l1.5 -1.0M536.4 1493.7l0.8 -1.1M536.0 1532.5l-0.2 -2.0M536.1 1570.6l-1.7 0.4M544.6 1441.3l1.0 -0.6M548.2 1484.6l-1.2 -1.3M547.1 1505.0l0.9 -1.6M546.5 1535.3l1.8 -0.8M557.5 1445.5l-1.4 0.4M561.8 1490.9l-1.3 -0.4M563.9 1509.4l-0.1 -1.5M553.7 1546.4l1.6 -1.1M554.0 1554.9l0.9 -0.8M560.9 1569.4l1.7 -0.7M558.5 1582.3l-1.3 0.2" stroke="#8f7846" stroke-width="3.2" opacity="1"/>
<path d="M373.5 1443.8l-0.3 -1.9M372.1 1457.4l0.7 -1.7M375.5 1490.4l0.4 -1.1M371.1 1530.6l0.0 -1.6M381.0 1544.2l0.3 -1.7M375.9 1559.1l-0.8 -0.8M384.0 1482.4l0.7 -1.3M386.8 1495.6l-0.9 -1.4M391.2 1510.0l0.6 -1.7M383.9 1512.7l1.5 -0.9M386.0 1557.6l0.9 -0.8M390.2 1579.8l1.5 -0.6M406.0 1454.8l1.0 -1.3M402.6 1468.2l1.1 -0.8M398.0 1493.3l1.3 -0.7M401.1 1541.4l0.1 -1.3M401.4 1573.9l-1.1 -0.9M401.8 1580.5l0.0 -1.4M410.4 1447.3l1.4 -1.2M410.4 1464.8l1.3 -0.7M411.6 1504.4l1.6 -0.8M410.9 1533.3l-1.5 -0.9M414.5 1554.0l1.5 -1.2M409.8 1569.0l-0.5 -1.1M429.1 1446.4l0.1 -1.7M424.7 1469.6l0.3 -1.5M429.2 1496.9l-1.4 -0.8M430.8 1503.9l-0.3 -1.3M422.3 1528.6l1.3 -1.1M424.8 1539.3l1.0 -1.2M423.6 1551.7l1.6 -0.5M426.9 1578.4l1.1 -0.6M435.5 1430.9l0.2 -1.3M436.3 1480.6l1.1 -0.4M438.6 1520.2l-1.4 -0.7M439.1 1531.5l-0.1 -2.0M442.7 1561.1l0.6 -1.1M438.2 1583.1l1.1 -0.6M447.9 1425.3l-1.0 -0.8M444.9 1445.6l-0.2 -1.1M444.8 1451.9l-0.1 -1.4M444.8 1477.5l-0.1 -1.9M446.1 1504.6l-1.5 -1.2M449.4 1521.2l1.4 -1.1M448.2 1543.4l1.4 -1.3M448.1 1552.3l0.6 -1.1M447.8 1569.9l0.9 -0.8M444.7 1585.4l-0.5 -1.6M464.4 1435.4l-1.5 -0.9M464.9 1473.0l1.4 -1.0M461.3 1492.6l1.2 -0.9M462.7 1532.8l-0.2 -1.6M458.0 1556.0l1.1 -1.3M461.9 1571.0l1.5 -1.1M472.5 1442.2l1.3 -0.9M476.2 1470.0l-0.1 -1.6M473.4 1478.1l-0.4 -1.1M473.8 1492.7l-0.0 -2.0M471.8 1518.0l0.3 -1.2M469.2 1530.8l1.0 -1.1M474.1 1546.3l-1.6 -1.1M470.5 1556.8l1.0 -1.1M470.1 1564.4l1.1 -1.4M467.7 1584.7l0.6 -1.0M480.2 1430.4l0.4 -1.1M491.0 1470.6l-0.0 -1.9M484.6 1491.3l0.9 -1.3M486.1 1504.8l0.9 -1.0M481.2 1523.4l-0.9 -0.7M490.9 1545.8l-2.0 -0.7M484.8 1580.4l-1.0 -1.7M499.8 1434.9l1.1 -1.2M497.9 1458.3l0.5 -1.7M498.4 1518.5l1.7 -0.9M500.0 1541.8l1.3 -0.6M492.6 1552.9l0.4 -1.2M511.1 1427.4l0.2 -1.4M508.8 1442.1l-0.1 -1.1M515.0 1457.8l1.3 -1.1M512.7 1481.9l1.9 -0.7M515.8 1494.4l-0.4 -1.7M505.1 1505.9l-0.5 -1.6M511.3 1530.5l-1.0 -1.7M507.7 1581.8l0.0 -1.3M521.7 1425.2l1.1 -0.4M522.0 1495.3l0.0 -1.5M525.4 1524.1l1.4 -0.5M526.1 1540.9l-0.2 -1.4M523.8 1555.8l1.8 -0.7M522.1 1572.1l0.7 -1.3M532.1 1500.4l-1.2 -0.3M533.2 1521.9l-0.4 -1.9M531.1 1538.9l1.6 -1.1M533.8 1559.2l-0.6 -1.1M534.3 1576.7l1.0 -1.1M543.7 1433.7l-1.2 0.1M541.0 1453.6l-0.2 -1.3M547.2 1469.0l-1.8 -0.7M549.5 1497.3l-1.4 -1.5M546.6 1520.6l-1.3 -0.1M547.2 1543.5l-0.7 -1.3M545.5 1560.9l-0.4 -1.6M542.2 1568.0l1.3 -0.9M546.4 1579.0l-0.7 -0.9M563.3 1430.9l-0.5 -1.3M555.1 1460.9l1.4 -0.5M555.6 1470.5l1.4 -1.4M552.9 1478.1l1.0 -1.7M562.0 1521.6l1.8 -0.8M558.5 1530.6l-1.4 -0.7" stroke="#8f7846" stroke-width="4" opacity="0.86"/>
<path d="M380.6 1468.2l0.5 -5.7M377.6 1478.1l-0.7 -5.1M376.8 1506.8l-0.8 -5.1M376.9 1517.5l-2.4 -2.3M379.1 1559.2l-4.2 -4.1M372.2 1567.4l3.1 -2.4M392.9 1431.9l-3.4 -2.2M389.5 1439.1l1.7 -2.9M391.7 1458.5l3.0 -2.2M390.2 1466.8l0.3 -5.3M389.1 1495.3l-1.8 -2.9M388.5 1511.2l2.2 -5.7M391.0 1542.0l3.4 -1.1M385.2 1566.5l3.0 -2.2M402.3 1433.7l1.1 -4.1M403.7 1454.3l2.4 -3.0M404.2 1480.6l-0.9 -4.0M397.0 1496.2l5.3 -2.6M400.5 1504.8l-6.8 -0.3M400.6 1515.4l-4.2 -2.4M405.7 1529.4l-2.8 -5.7M403.1 1542.6l0.2 -3.4M403.9 1581.7l0.0 -3.8M413.9 1429.4l1.2 -4.4M407.5 1447.1l4.6 -3.9M413.3 1478.6l-4.0 -4.5M413.5 1497.7l-2.1 -3.2M410.5 1507.2l5.5 -2.6M411.2 1519.0l3.7 -1.9M409.2 1543.4l0.2 -3.6M415.1 1556.1l2.8 -2.2M415.5 1583.6l0.8 -6.0M426.9 1448.4l0.3 -5.8M426.3 1477.4l-2.1 -3.4M432.2 1496.1l-5.4 -3.0M429.2 1516.2l-3.6 -1.5M422.8 1531.0l3.1 -2.6M425.0 1542.4l3.8 -4.7M422.2 1554.4l5.8 -1.9M426.0 1581.3l4.9 -2.7M440.2 1445.4l-0.5 -4.0M436.9 1454.7l3.5 -2.1M438.1 1471.6l-0.3 -3.8M439.4 1511.1l3.2 -5.2M437.0 1532.6l-0.2 -3.9M439.2 1548.3l-0.7 -6.9M437.1 1586.1l5.4 -3.0M446.9 1452.7l-0.3 -3.4M454.0 1463.2l-4.8 -0.4M452.2 1495.5l-5.1 -3.1M448.0 1503.4l-2.5 -2.0M451.1 1532.3l1.9 -6.5M448.9 1555.3l2.7 -5.2M448.2 1572.5l3.1 -2.8M447.3 1586.7l-1.7 -5.4M455.2 1453.8l5.4 -2.9M463.0 1471.8l2.9 -2.0M460.8 1477.2l1.5 -3.3M465.0 1534.1l-0.5 -4.6M462.4 1573.3l3.0 -2.3M461.6 1585.1l1.1 -3.6M472.2 1426.6l-2.5 -2.1M469.3 1441.8l5.6 -3.6M475.2 1458.5l-4.1 -1.6M478.4 1471.0l-0.2 -3.7M475.8 1478.4l-1.1 -3.1M475.9 1495.0l-0.0 -6.5M480.4 1508.1l-6.3 -1.9M470.2 1532.9l2.1 -2.5M471.4 1559.0l2.3 -2.4M468.2 1587.9l3.2 -5.2M486.0 1508.2l4.4 -5.0M483.4 1522.5l-2.8 -2.2M487.6 1533.4l-4.0 -2.8M490.7 1548.0l-3.0 -1.1M485.8 1573.8l3.1 -3.0M487.1 1580.1l-2.0 -3.4M497.8 1485.6l-4.7 -3.1M496.6 1517.1l3.5 -1.8M493.2 1585.3l3.1 -0.9M506.8 1443.9l-0.2 -4.5M512.0 1457.5l4.6 -3.8M512.5 1465.8l-2.1 -3.9M514.0 1495.8l-0.8 -3.7M507.6 1506.9l-1.3 -4.8M511.2 1570.4l3.8 -3.5M509.8 1583.2l0.0 -4.2M523.6 1444.1l-6.5 1.4M516.7 1455.3l3.7 -1.3M520.5 1471.3l2.3 -5.4M526.9 1477.0l-6.1 1.5M524.1 1497.2l0.1 -5.1M521.7 1506.4l-5.8 -0.4M523.3 1529.8l4.4 -4.1M523.3 1574.3l1.9 -3.8M521.2 1586.8l-0.6 -5.8M535.6 1434.3l-3.5 -5.7M536.9 1449.1l-0.5 -6.8M539.8 1453.5l-2.0 -3.4M537.2 1464.8l0.3 -4.4M535.7 1523.6l-1.2 -6.2M538.3 1533.8l-0.4 -4.9M537.0 1560.4l-3.3 -5.6M537.9 1568.1l-6.2 1.3M545.9 1431.5l-5.7 0.3M543.6 1444.4l5.1 -3.1M543.4 1455.5l-0.9 -5.7M550.9 1484.4l-3.4 -3.8M547.8 1518.6l-3.3 -0.3M543.7 1534.3l5.6 -2.7M542.7 1570.2l2.7 -2.0M562.4 1434.1l-2.6 -5.9M553.9 1480.5l2.5 -4.2M563.8 1489.3l-4.1 -1.3M562.1 1512.3l-0.6 -6.8M561.1 1529.6l-4.8 -2.3M554.0 1557.7l3.7 -3.3M560.6 1571.8l3.8 -1.6" stroke="#efdfac" stroke-width="2" opacity="0.77"/>
<path d="M375.7 1424.1l-3.5 0.9M376.0 1445.8l-1.0 -6.6M373.2 1460.2l2.4 -5.7M376.8 1492.9l1.8 -4.5M373.1 1532.3l0.0 -5.0M378.7 1545.3l0.8 -4.5M381.3 1585.2l-4.6 0.0M384.7 1485.5l3.1 -5.5M382.8 1515.8l5.8 -3.5M392.6 1537.6l1.0 -6.2M385.5 1561.0l4.8 -4.4M389.5 1582.3l4.3 -1.7M398.3 1442.9l1.0 -3.1M402.0 1471.2l4.7 -3.3M400.9 1561.5l0.8 -3.7M404.4 1573.7l-4.2 -3.6M410.4 1451.6l5.7 -3.1M410.3 1467.2l3.6 -2.0M412.7 1532.0l-3.2 -1.8M412.7 1570.3l-2.7 -5.5M422.0 1430.3l0.1 -5.2M422.9 1458.9l3.9 -4.5M426.6 1470.9l0.6 -3.3M429.3 1506.8l-1.3 -6.3M420.3 1566.1l3.5 -3.2M437.2 1433.4l0.8 -5.6M435.2 1483.1l4.5 -1.5M437.9 1494.7l-1.5 -6.2M440.8 1518.9l-3.7 -1.9M440.2 1561.3l1.8 -3.5M434.4 1568.9l2.5 -2.7M448.3 1428.3l-4.4 -3.5M447.3 1447.7l-0.9 -6.0M447.0 1479.9l-0.2 -6.9M449.5 1523.8l3.9 -3.0M449.0 1545.5l2.7 -2.6M466.7 1434.3l-3.9 -2.3M458.9 1446.4l3.9 -1.9M461.0 1495.4l4.3 -3.1M467.3 1509.5l-4.9 -0.9M458.0 1519.0l2.7 -1.9M463.4 1543.2l0.8 -6.2M457.9 1559.2l4.4 -4.9M473.2 1520.7l1.4 -5.7M474.5 1549.0l-4.6 -3.1M470.6 1567.2l3.4 -4.3M481.8 1432.2l1.2 -3.2M487.0 1441.9l-6.1 1.5M480.1 1452.6l4.2 -2.5M488.9 1472.7l-0.0 -6.0M485.4 1479.3l2.2 -6.4M485.4 1493.8l2.7 -3.9M482.5 1554.6l2.3 -3.2M497.7 1434.1l2.2 -2.4M502.8 1443.2l-4.1 -3.5M499.4 1460.8l1.6 -5.6M503.0 1466.8l-1.7 -5.0M495.6 1492.1l1.6 -4.7M494.0 1508.7l3.3 -1.4M501.2 1536.0l0.0 -4.8M496.8 1540.9l6.0 -2.7M493.9 1555.5l1.8 -5.1M495.7 1570.4l3.0 -2.4M508.7 1429.1l0.8 -5.4M510.4 1480.5l5.0 -1.8M511.3 1516.3l3.3 -5.0M510.7 1533.6l-3.5 -5.6M514.9 1544.2l-4.1 -2.6M511.0 1552.7l-4.5 -1.6M520.2 1427.9l5.4 -1.8M523.7 1522.4l3.5 -1.1M524.2 1542.7l-0.5 -4.3M523.5 1558.2l3.8 -1.4M533.1 1478.0l3.6 -2.4M537.5 1495.8l2.0 -2.7M533.4 1502.9l-4.9 -1.2M531.3 1541.4l3.6 -2.6M534.4 1579.9l4.1 -4.8M550.2 1467.9l-6.3 -2.5M551.5 1496.3l-2.2 -2.5M548.1 1507.4l2.6 -4.4M549.8 1543.7l-2.2 -3.7M547.8 1561.9l-1.1 -4.5M545.6 1581.3l-2.3 -2.7M558.2 1443.1l-4.0 1.1M552.7 1459.5l4.8 -1.6M556.6 1472.6l2.5 -2.4M559.0 1520.6l6.2 -2.6M553.1 1549.4l5.2 -3.6M559.9 1580.0l-4.8 0.5" stroke="#efdfac" stroke-width="1.5" opacity="0.63"/>
</g>
<g filter="url(#blurc2)">
<ellipse cx="430.68" cy="1481.48" rx="3.38" ry="2.15" fill="#5a7a5c" opacity="0.9" transform="rotate(147.24 430.68 1481.48)"/>
<path d="M434.1 1477.8l-3.4 2.2" stroke="#efdfac" stroke-width="1.3" opacity="0.7" stroke-linecap="round"/>
<ellipse cx="533.71" cy="1499.36" rx="3.9" ry="2.06" fill="#a09a68" opacity="0.6" transform="rotate(170.55 533.71 1499.36)"/>
<path d="M536.3 1495.5l-3.9 0.7" stroke="#efdfac" stroke-width="1.3" opacity="0.7" stroke-linecap="round"/>
<ellipse cx="550.79" cy="1574.26" rx="5.2" ry="3.4" fill="#a09058" opacity="0.6" transform="rotate(51.04 550.79 1574.26)"/>
<ellipse cx="550.42" cy="1575.22" rx="2" ry="1.6" fill="#1f5f50" opacity="0.55"/>
<path d="M553.3 1575.7l2.5 3.1" stroke="#efdfac" stroke-width="1.3" opacity="0.7" stroke-linecap="round"/>
</g>
<rect x="370.9" y="1422.5" width="194.2" height="165.3" filter="url(#noise)" fill="#5a4a20" opacity="0.18"/>
</g>
<rect x="372.05" y="1423.65" width="191.9" height="163" fill="none" stroke="#000" stroke-width="2.3"/>
<clipPath id="pc3"><rect x="160.6" y="1598.8" width="194" height="164.6"/></clipPath>
<rect x="160.6" y="1598.8" width="194" height="164.6" fill="#c1a463"/>
<g clip-path="url(#pc3)">
<circle cx="280.6" cy="1658.8" r="55" fill="#b8994f" opacity="0.9" filter="url(#blurbig)"/>
<circle cx="210.6" cy="1728.8" r="40" fill="#c9b077" opacity="0.5" filter="url(#blurbig)"/>
<circle cx="190.6" cy="1628.8" r="30" fill="#c8ae74" opacity="0.5" filter="url(#blurbig)"/>
<g filter="url(#blurc3)" fill="none" stroke-linecap="round">
<path d="M173.7 1631.5l2.0 -4.6M168.6 1689.7l-2.6 -2.8M190.2 1631.1l-3.4 -1.2M182.4 1686.8l3.7 -5.1M200.7 1645.6l-0.4 -4.5M209.9 1727.5l-4.5 -0.3M236.1 1605.6l-5.8 -1.2M230.9 1632.0l2.9 -3.7M237.0 1716.6l-4.9 -1.3M229.7 1741.0l1.5 -4.1M249.8 1627.3l0.8 -3.5M242.5 1656.8l0.8 -4.5M248.2 1750.3l-1.0 -4.5M257.2 1652.9l3.8 -4.3M262.3 1676.5l3.9 -3.4M271.2 1696.0l0.5 -5.7M268.2 1747.0l3.0 -3.5M280.4 1608.2l2.8 -4.7M287.0 1635.7l1.2 -4.1M295.2 1712.7l0.5 -4.5M306.6 1707.4l1.8 -4.5M324.9 1676.3l-0.7 -5.1M320.6 1700.4l-5.2 -3.0M321.0 1712.9l-1.1 -5.5M347.6 1651.9l4.5 -3.5M349.0 1671.6l0.0 -5.8M353.5 1691.3l-4.3 0.7M339.8 1711.9l3.8 -4.9" stroke="#8a7440" stroke-width="3.2" opacity="0.63"/>
<path d="M168.8 1614.6l3.2 -4.4M171.5 1651.2l-0.3 -3.7M168.1 1678.7l-3.5 -0.2M164.7 1732.4l-3.5 -3.0M169.0 1749.3l1.3 -3.3M188.8 1617.0l-3.7 -0.4M183.8 1645.3l3.9 -4.3M187.2 1678.6l-1.0 -6.0M192.2 1716.6l-1.6 -6.0M212.1 1629.5l4.7 -4.4M205.9 1668.3l-4.5 -3.9M210.6 1690.6l-2.6 -3.5M211.5 1762.9l2.7 -4.3M223.6 1649.4l-2.9 -3.8M225.0 1753.3l3.4 -5.1M255.9 1682.7l-4.8 -0.4M244.3 1711.3l-2.7 -3.3M262.0 1611.1l2.4 -3.7M266.5 1628.4l2.8 -3.0M263.6 1719.1l-0.5 -4.3M263.2 1730.9l0.2 -5.2M283.4 1647.4l-3.0 -1.9M289.5 1700.0l2.7 -5.3M282.1 1732.5l-3.2 -1.8M283.3 1759.4l-3.9 -4.5M312.3 1613.9l-4.9 -4.0M300.3 1632.0l-1.0 -6.1M298.1 1648.5l0.1 -5.0M312.9 1670.0l1.1 -3.8M304.6 1700.6l-3.6 -0.0M315.5 1723.9l-6.1 -1.3M322.2 1634.9l1.9 -4.3M344.9 1608.6l-6.3 1.6M347.8 1745.1l-4.5 1.0" stroke="#8a7440" stroke-width="4" opacity="0.48"/>
<path d="M174.7 1634.4l3.9 -8.7M170.2 1676.7l-7.5 -0.3M167.9 1732.5l-7.3 -6.3M165.8 1751.8l3.8 -9.8M184.2 1648.1l6.3 -7.0M183.3 1689.2l5.4 -7.4M202.9 1646.9l-0.7 -7.5M207.4 1666.8l-4.6 -4.0M213.3 1690.6l-4.5 -6.1M210.4 1729.6l-5.7 -0.4M209.6 1762.1l3.0 -4.9M226.3 1649.3l-4.8 -6.3M231.1 1743.1l2.6 -7.0M251.0 1631.6l2.6 -11.2M244.0 1660.2l1.8 -10.6M257.4 1685.0l-8.1 -0.7M246.3 1751.6l-1.3 -6.1M263.3 1612.8l3.2 -4.9M266.9 1631.0l5.0 -5.3M265.3 1731.8l0.2 -6.8M267.9 1750.5l6.7 -7.9M278.2 1607.7l3.4 -5.8M288.8 1637.1l1.7 -5.8M290.8 1702.1l3.9 -7.7M302.3 1631.3l-0.9 -5.4M310.5 1670.6l1.7 -6.1M307.6 1710.6l3.7 -9.4M317.4 1726.5l-10.8 -2.2M323.0 1638.3l4.1 -9.3M321.6 1698.6l-5.2 -3.0M323.6 1715.4l-2.3 -11.3M351.1 1672.8l0.0 -8.2M341.3 1713.4l4.2 -5.4M350.7 1746.6l-9.3 2.2" stroke="#dcc890" stroke-width="2" opacity="0.44"/>
<path d="M168.8 1618.2l6.5 -9.1M173.8 1653.7l-0.7 -9.0M172.6 1690.9l-7.5 -8.1M191.5 1615.1l-8.6 -0.9M194.4 1630.4l-10.5 -3.7M189.7 1680.3l-1.7 -10.1M194.1 1715.7l-1.4 -5.3M209.2 1629.4l7.8 -7.2M236.9 1603.7l-6.6 -1.3M230.4 1636.0l7.2 -9.1M239.3 1719.4l-10.7 -2.9M222.9 1752.6l4.1 -6.2M247.4 1711.7l-5.7 -7.0M257.3 1655.9l6.7 -7.6M259.0 1676.5l7.8 -6.7M268.8 1698.7l1.0 -11.4M266.1 1722.3l-1.3 -11.2M285.3 1646.1l-4.8 -2.9M292.7 1715.9l1.2 -11.4M284.4 1731.4l-5.8 -3.2M285.1 1758.2l-4.3 -4.9M315.4 1613.8l-8.5 -6.9M300.2 1649.8l0.1 -7.5M308.7 1698.5l-11.8 -0.1M327.4 1679.2l-1.7 -11.5M347.4 1610.1l-10.2 2.6M344.8 1651.4l7.6 -5.7M355.7 1688.9l-9.2 1.4" stroke="#dcc890" stroke-width="1.5" opacity="0.36"/>
<circle cx="329.81" cy="1620.32" r="1.6" fill="#fff3cc" opacity="0.85" stroke="none"/>
<circle cx="228.93" cy="1651.02" r="1.4" fill="#fff3cc" opacity="0.85" stroke="none"/>
<circle cx="255.25" cy="1694.25" r="2" fill="#fff3cc" opacity="0.85" stroke="none"/>
<circle cx="203.25" cy="1706.78" r="1.8" fill="#fff3cc" opacity="0.85" stroke="none"/>
<circle cx="196.98" cy="1663.55" r="1.2" fill="#fff3cc" opacity="0.85" stroke="none"/>
<circle cx="299.11" cy="1751.89" r="1.6" fill="#fff3cc" opacity="0.85" stroke="none"/>
<circle cx="285.33" cy="1755.65" r="2.2" fill="#fff3cc" opacity="0.85" stroke="none"/>
</g>
<g filter="url(#blurc2)">
<ellipse cx="178.38" cy="1641.25" rx="3.9" ry="2.55" fill="#8fa088" opacity="0.7" transform="rotate(143.19 178.38 1641.25)"/>
<path d="M182.1 1637.2l-3.2 2.4" stroke="#dcc890" stroke-width="1.3" opacity="0.7" stroke-linecap="round"/>
<ellipse cx="286.66" cy="1713.52" rx="3.9" ry="2.17" fill="#7c8a6c" opacity="0.7" transform="rotate(55.91 286.66 1713.52)"/>
<path d="M288.5 1713.9l2.2 3.3" stroke="#dcc890" stroke-width="1.3" opacity="0.7" stroke-linecap="round"/>
<ellipse cx="194.68" cy="1731.92" rx="3.9" ry="2.39" fill="#7a8a68" opacity="0.7" transform="rotate(104.92 194.68 1731.92)"/>
<path d="M198.7 1729.1l-1.0 3.9" stroke="#dcc890" stroke-width="1.3" opacity="0.7" stroke-linecap="round"/>
<ellipse cx="211.76" cy="1737.17" rx="3.9" ry="1.95" fill="#7a8a68" opacity="0.6" transform="rotate(128.55 211.76 1737.17)"/>
<path d="M215.8 1733.4l-2.5 3.1" stroke="#dcc890" stroke-width="1.3" opacity="0.7" stroke-linecap="round"/>
</g>
<rect x="160.6" y="1598.8" width="194" height="164.6" filter="url(#noise)" fill="#5a4a20" opacity="0.18"/>
</g>
<rect x="161.75" y="1599.95" width="191.7" height="162.3" fill="none" stroke="#000" stroke-width="2.3"/>
<clipPath id="pc4"><rect x="370.9" y="1598.8" width="194.2" height="164.6"/></clipPath>
<rect x="370.9" y="1598.8" width="194.2" height="164.6" fill="#cbb07c"/>
<g clip-path="url(#pc4)">
<circle cx="410.9" cy="1688.8" r="50" fill="#c4a878" opacity="0.5" filter="url(#blurbig)"/>
<circle cx="520.9" cy="1698.8" r="45" fill="#d2ba8c" opacity="0.5" filter="url(#blurbig)"/>
<g filter="url(#blurc)" fill="none" stroke-linecap="round">
<path d="M379.3 1617.4l1.1 -1.3M373.9 1671.2l1.4 -0.6M371.4 1684.4l0.4 -1.3M378.7 1701.9l1.2 -0.7M375.5 1736.4l-1.4 -0.0M377.7 1761.5l0.4 -1.7M388.4 1604.8l1.3 -0.3M386.6 1626.7l0.3 -1.1M391.3 1645.6l1.2 -0.7M384.0 1651.8l0.1 -2.0M387.5 1674.2l-0.7 -1.9M388.5 1684.0l1.7 -1.0M381.9 1698.6l1.5 -1.3M387.9 1716.4l1.5 -0.6M386.5 1719.2l0.1 -1.4M397.7 1607.5l-0.3 -1.1M397.2 1642.1l-0.3 -1.4M393.8 1655.7l0.8 -1.8M398.0 1661.6l-0.2 -1.6M403.4 1685.2l1.4 -0.8M401.1 1698.9l1.2 -0.7M414.3 1603.0l1.2 -0.6M414.0 1628.6l-1.4 -0.2M411.9 1651.8l1.1 -0.8M411.9 1682.4l1.3 -0.6M410.5 1711.9l1.2 -1.5M412.2 1744.9l0.4 -1.5M420.2 1607.2l0.5 -1.1M421.3 1617.9l1.5 -0.9M422.8 1628.0l-0.1 -1.2M424.3 1670.5l1.4 -1.1M421.8 1722.3l0.8 -1.4M421.1 1733.4l0.6 -1.1M422.4 1746.6l-0.1 -1.6M429.3 1622.2l-1.4 -1.0M433.2 1639.9l1.3 -1.5M435.7 1649.2l-0.2 -1.9M430.6 1674.0l1.5 -1.0M433.7 1682.5l1.7 -0.6M429.5 1705.5l1.0 -0.6M440.6 1602.5l1.8 -0.9M450.0 1624.2l-0.4 -1.3M449.2 1639.7l0.9 -0.8M440.7 1659.6l0.8 -0.8M444.2 1716.2l-1.9 -0.1M441.6 1726.1l-0.2 -1.2M440.5 1743.7l-0.4 -1.4M447.0 1762.2l-1.4 0.3M455.6 1609.0l-2.0 -0.6M457.6 1618.2l1.4 -0.6M456.1 1630.6l0.7 -1.1M456.0 1674.9l1.7 -0.9M454.7 1691.5l-1.3 -0.6M452.1 1702.0l-0.0 -1.5M455.0 1707.4l0.4 -1.4M461.6 1720.8l-0.0 -1.7M455.7 1746.0l0.3 -1.6M462.4 1760.1l-0.4 -1.3M464.4 1606.6l-0.7 -1.4M467.9 1665.5l1.0 -1.0M462.6 1697.3l1.5 -0.5M467.8 1720.1l-0.1 -1.2M477.0 1601.3l0.1 -1.5M477.3 1633.7l-1.9 -0.3M480.8 1688.1l0.6 -1.2M480.5 1709.7l0.7 -1.0M477.7 1733.3l1.2 -0.7M483.2 1748.6l-1.2 -0.3M489.5 1608.3l-1.2 -1.7M488.4 1617.2l-0.2 -2.0M490.2 1627.1l0.6 -1.4M486.1 1639.5l-0.1 -1.2M487.6 1664.9l0.7 -1.5M489.9 1706.0l-1.5 0.3M492.4 1718.8l-1.9 -0.7M487.6 1731.7l0.1 -1.8M487.4 1761.7l-1.1 -1.5M505.0 1599.4l1.1 -0.3M503.0 1619.3l-1.1 -0.7M496.9 1650.2l0.9 -1.8M505.6 1680.8l1.8 -1.0M501.9 1688.6l-1.8 -0.7M506.4 1702.0l0.2 -1.2M497.3 1718.7l1.0 -1.5M497.2 1731.4l0.4 -1.6M502.7 1762.0l0.2 -1.8M509.6 1636.0l0.7 -1.3M515.3 1668.0l-0.3 -1.3M510.6 1678.3l1.2 -0.3M513.0 1724.4l0.7 -1.3M518.6 1762.5l-0.1 -2.1M524.9 1604.0l-0.7 -1.4M520.7 1629.4l-1.3 -0.8M525.0 1685.9l0.3 -1.9M519.6 1701.4l0.6 -1.9M530.3 1738.4l-1.8 0.3M533.1 1614.8l-0.8 -1.7M532.6 1627.5l-1.5 -1.5M533.7 1641.7l0.4 -1.1M532.0 1662.4l-1.3 -1.5M533.8 1711.9l1.7 -0.6M536.0 1723.3l0.2 -1.7M537.8 1759.8l0.7 -1.1M547.5 1604.4l-0.2 -1.8M548.8 1618.4l0.4 -2.0M550.5 1640.9l-1.7 0.3M549.9 1699.7l1.0 -1.0M553.1 1732.8l-0.1 -1.2M560.1 1607.1l-1.4 -0.8M564.1 1618.0l-1.7 0.3M556.8 1648.7l0.1 -1.9M561.0 1661.7l0.7 -1.2M557.8 1682.1l1.5 -1.0M557.6 1703.8l-1.0 -0.5M555.8 1744.9l1.5 -0.5M554.5 1756.5l1.1 -0.4" stroke="#9a8250" stroke-width="3.2" opacity="0.9"/>
<path d="M375.5 1609.3l-0.7 -1.1M371.8 1630.4l1.4 -0.7M373.1 1636.2l1.7 -0.6M373.0 1654.7l0.6 -1.8M381.4 1666.4l-0.6 -1.6M377.3 1711.1l0.7 -1.5M375.8 1724.0l-1.2 -0.3M378.3 1742.5l1.3 -0.9M384.9 1616.7l0.5 -1.7M387.4 1666.1l0.7 -1.1M386.5 1731.6l-0.5 -1.8M386.4 1745.7l0.4 -2.0M386.2 1759.7l-1.9 0.3M397.8 1615.2l1.0 -1.3M393.6 1630.6l0.3 -1.4M393.8 1672.9l-0.2 -1.7M400.7 1708.5l-1.0 -0.7M399.9 1722.3l1.2 -0.8M399.3 1736.7l1.0 -0.7M397.1 1743.5l-0.2 -1.2M395.3 1753.6l1.1 -0.3M411.7 1621.6l-0.6 -1.4M414.1 1642.6l0.4 -1.4M410.8 1657.7l1.4 -0.5M410.6 1673.5l0.3 -1.3M410.8 1693.9l1.0 -0.8M407.4 1722.6l-0.4 -1.9M412.2 1735.9l1.0 -1.2M409.3 1756.3l0.8 -1.5M424.0 1641.0l1.2 -0.5M421.4 1651.8l-0.7 -1.7M424.2 1668.5l1.0 -1.0M428.2 1687.2l-0.4 -1.3M424.1 1695.6l1.2 -0.3M422.5 1711.5l0.5 -1.3M421.4 1757.4l1.3 -1.3M428.8 1607.3l-0.5 -1.7M432.6 1626.7l-2.0 -0.7M432.2 1667.0l1.0 -1.5M434.8 1694.8l1.2 -1.3M431.5 1727.6l1.1 -1.4M432.9 1737.0l-2.1 0.2M432.6 1744.9l-0.1 -2.0M433.7 1756.0l1.7 -0.6M447.2 1616.8l-1.0 -0.9M446.8 1653.7l-2.0 0.3M441.0 1677.7l0.2 -1.9M445.9 1688.6l0.5 -1.0M439.9 1698.4l1.6 -1.3M445.4 1736.1l-0.5 -2.0M452.0 1636.6l1.2 -1.0M453.1 1651.4l-0.3 -1.3M458.5 1667.8l0.5 -1.3M453.5 1731.7l0.2 -1.3M469.5 1622.0l-0.5 -1.1M467.3 1632.4l-0.4 -1.7M471.5 1642.6l-1.8 0.3M465.7 1649.7l1.2 -1.0M469.8 1670.4l1.3 -0.9M468.2 1692.8l-1.0 -1.3M463.7 1706.3l1.6 -1.0M469.3 1739.6l-0.9 -1.7M470.1 1747.0l1.5 -0.5M471.1 1757.4l-0.7 -1.8M479.3 1614.5l1.3 -0.8M479.1 1639.9l1.6 -0.8M476.8 1656.2l1.5 -1.2M474.8 1658.7l1.8 -0.6M479.7 1674.8l-1.3 -0.8M481.0 1697.8l0.7 -1.1M485.4 1721.5l-0.6 -1.0M480.3 1760.3l-0.2 -1.6M490.4 1653.5l0.8 -1.0M485.5 1675.7l1.0 -1.6M494.9 1686.9l-1.8 -0.2M495.3 1698.8l-0.9 -1.2M494.5 1747.4l1.6 -0.7M501.2 1628.4l-1.4 -0.4M500.5 1646.3l-1.9 -0.4M501.3 1665.1l-2.0 -0.6M505.9 1711.1l-1.9 -0.4M499.5 1744.3l1.2 -1.2M517.0 1605.2l0.8 -1.5M517.9 1617.0l-2.0 0.4M514.3 1630.9l-1.1 -0.9M509.5 1649.2l0.9 -0.9M519.2 1689.3l0.3 -1.6M512.0 1700.2l1.4 -1.3M513.8 1708.6l1.5 -1.3M516.5 1737.5l-1.8 0.4M511.2 1745.7l-1.7 -0.9M523.1 1614.0l-0.3 -1.4M523.7 1639.3l1.2 -0.6M524.1 1649.9l-0.0 -1.4M522.9 1664.6l0.7 -1.2M524.9 1676.5l1.5 -0.7M523.5 1711.1l1.5 -0.9M521.2 1717.9l1.5 -0.6M519.1 1748.3l0.8 -1.0M527.0 1754.5l1.6 -0.9M532.5 1603.2l-0.3 -2.0M534.7 1650.9l-1.4 -0.3M537.0 1679.6l-0.9 -1.1M539.0 1687.0l1.2 -0.6M531.6 1699.3l1.0 -1.2M534.7 1738.8l-0.2 -1.3M533.1 1746.5l0.5 -1.3M546.5 1626.2l-0.6 -1.5M543.4 1648.6l1.7 -1.1M550.4 1661.1l-0.0 -1.1M547.9 1680.3l-1.5 0.2M553.8 1688.6l-0.2 -1.3M547.1 1710.0l0.5 -1.8M548.5 1720.2l-0.6 -1.3M542.6 1749.0l0.2 -1.3M552.9 1759.1l0.1 -2.0M557.0 1632.5l-1.2 0.1M560.8 1641.6l1.6 -1.0M556.8 1679.8l-0.5 -1.8M554.6 1710.0l1.7 -0.9M564.6 1723.5l0.1 -2.0M558.6 1735.0l-0.6 -1.1" stroke="#9a8250" stroke-width="4" opacity="0.69"/>
<path d="M377.8 1609.1l-1.7 -2.8M376.8 1617.2l2.8 -3.5M370.2 1633.4l6.3 -2.9M371.7 1638.9l5.9 -2.1M374.4 1656.9l1.6 -5.0M379.8 1668.2l-1.3 -3.8M372.8 1687.0l1.6 -5.3M375.4 1701.5l5.4 -3.4M378.6 1713.2l1.9 -3.9M378.1 1745.2l4.2 -3.0M387.0 1607.3l5.0 -1.4M386.0 1652.8l0.2 -3.8M389.9 1674.8l-1.6 -4.6M388.0 1686.8l4.9 -2.9M381.8 1701.5l4.6 -4.0M386.1 1714.8l3.5 -1.4M384.1 1721.5l0.7 -6.3M387.0 1757.4l-4.1 0.6M399.0 1617.2l2.0 -2.7M395.2 1633.7l1.3 -6.7M400.4 1663.9l-0.8 -6.7M396.0 1673.4l-0.4 -3.3M400.6 1684.3l4.9 -2.8M400.7 1711.1l-3.5 -2.6M416.3 1626.8l-5.4 -0.7M409.5 1660.4l5.4 -1.9M408.4 1674.0l0.8 -3.4M411.2 1685.0l4.4 -2.0M409.7 1746.4l1.3 -5.6M420.2 1621.1l6.0 -3.6M425.1 1630.3l-0.7 -6.3M423.9 1652.4l-1.7 -4.5M423.9 1673.5l4.8 -3.7M426.5 1689.2l-1.1 -4.1M422.7 1698.1l5.2 -1.4M424.2 1713.1l1.2 -3.1M422.3 1735.6l1.9 -3.5M424.6 1747.6l-0.3 -3.9M433.6 1642.7l3.8 -4.5M433.3 1669.2l2.4 -3.6M428.4 1673.0l3.6 -2.4M433.2 1684.9l4.0 -1.4M434.1 1734.8l-4.9 0.5M432.9 1758.5l4.7 -1.6M439.5 1605.3l5.8 -2.9M448.6 1626.7l-1.6 -5.1M446.8 1638.9l3.1 -2.5M448.9 1651.3l-6.8 0.9M440.7 1662.6l3.8 -4.0M442.9 1679.5l0.6 -4.9M446.5 1714.1l-6.2 -0.2M443.8 1727.1l-0.6 -3.9M442.9 1744.5l-1.1 -4.1M448.1 1759.8l-4.6 1.1M457.2 1607.3l-4.0 -1.2M457.3 1620.7l3.7 -1.7M453.7 1630.5l2.1 -3.2M451.7 1639.5l4.5 -3.6M455.9 1668.9l1.7 -4.9M454.2 1704.0l-0.0 -5.5M456.4 1710.3l1.6 -6.2M459.5 1722.5l-0.0 -5.1M455.3 1734.7l0.9 -6.7M472.0 1622.3l-1.7 -3.5M472.9 1640.3l-5.1 0.8M465.2 1652.9l4.9 -4.3M467.9 1668.5l4.0 -4.0M462.5 1699.5l3.1 -1.0M466.0 1722.8l-0.7 -6.1M471.7 1739.7l-2.0 -3.9M470.0 1749.2l3.2 -1.1M479.0 1617.2l4.1 -2.5M478.4 1631.8l-3.2 -0.6M477.3 1638.4l3.4 -1.6M474.3 1655.4l4.0 -3.0M481.4 1691.4l3.2 -5.9M477.3 1710.5l3.6 -5.0M484.2 1723.5l-1.7 -2.7M476.9 1736.3l5.0 -3.2M478.5 1763.1l-0.8 -6.7M492.5 1608.9l-3.7 -5.2M487.6 1627.8l2.1 -4.6M488.4 1641.1l-0.5 -4.8M489.0 1666.9l1.7 -3.9M486.4 1678.1l2.7 -4.4M494.8 1701.6l-3.3 -4.3M492.2 1721.0l-3.0 -1.2M489.5 1734.3l0.4 -6.8M490.3 1762.2l-3.6 -4.9M506.1 1618.8l-5.1 -3.2M504.4 1627.2l-6.3 -2.1M503.3 1644.7l-6.8 -1.3M498.0 1652.8l2.6 -5.2M502.5 1663.3l-3.2 -1.0M504.0 1679.3l2.9 -1.6M503.7 1687.0l-3.9 -1.5M504.0 1703.6l0.9 -5.0M508.6 1709.6l-6.4 -1.5M498.5 1720.9l2.3 -3.7M499.8 1746.9l3.5 -3.4M504.7 1763.1l0.5 -3.4M514.2 1605.8l2.7 -4.9M518.7 1614.7l-4.6 1.0M510.4 1638.9l2.8 -4.9M517.7 1669.7l-1.1 -5.4M508.8 1676.6l3.7 -1.0M516.8 1690.9l1.1 -5.8M512.3 1702.7l3.6 -3.2M514.7 1710.6l2.5 -2.1M517.0 1735.2l-3.8 0.9M527.9 1605.3l-3.0 -5.9M523.8 1628.9l-5.4 -3.4M521.1 1638.2l4.5 -2.2M526.2 1651.0l-0.1 -3.7M520.0 1665.4l2.8 -4.8M523.0 1675.0l3.5 -1.6M520.9 1704.4l2.0 -6.6M520.3 1720.5l4.8 -1.9M531.9 1736.0l-5.7 1.1M519.0 1751.8l4.3 -5.4M535.4 1614.7l-1.6 -3.2M534.9 1626.8l-3.1 -3.0M535.1 1644.2l1.6 -4.9M536.2 1649.1l-3.4 -0.7M539.0 1689.3l3.0 -1.5M537.1 1740.3l-0.8 -5.0M535.3 1759.7l2.1 -3.2M549.0 1626.9l-1.7 -4.5M544.0 1650.7l2.8 -1.8M552.2 1691.5l-1.2 -6.5M549.6 1703.0l4.6 -4.8M548.7 1712.1l1.3 -4.9M550.8 1720.2l-1.4 -3.1M551.3 1735.6l-0.6 -6.6M544.4 1751.2l0.6 -5.2M550.7 1760.6l0.3 -5.2M560.7 1609.9l-4.7 -2.7M565.8 1615.6l-5.7 0.9M559.5 1630.2l-6.6 0.6M558.9 1649.7l0.1 -3.7M558.2 1662.3l2.4 -4.5M559.1 1680.5l-1.2 -4.2M557.3 1685.0l4.8 -3.4M559.9 1702.5l-3.7 -1.8M554.5 1712.3l3.7 -1.9M561.8 1736.3l-3.4 -5.7M555.3 1747.4l4.0 -1.5M552.6 1759.3l6.2 -2.1" stroke="#ecd9aa" stroke-width="2" opacity="0.77"/>
<path d="M372.6 1674.1l5.8 -2.7M377.0 1726.6l-4.7 -1.3M377.8 1734.3l-5.9 -0.1M379.4 1763.4l1.1 -4.5M386.6 1618.2l1.1 -3.5M388.3 1628.3l0.9 -3.1M387.9 1645.1l5.9 -3.3M388.3 1668.7l2.5 -4.3M389.1 1733.0l-1.6 -5.7M387.9 1748.5l1.5 -6.6M400.0 1607.8l-1.0 -3.1M399.6 1642.9l-1.0 -4.0M395.3 1657.5l1.7 -3.7M398.5 1698.0l4.2 -2.6M399.7 1725.0l3.9 -2.5M396.9 1735.9l3.4 -2.5M399.5 1745.2l-0.8 -5.1M394.8 1756.0l3.3 -0.9M411.1 1602.2l5.7 -2.8M414.3 1622.2l-1.8 -4.4M411.5 1643.9l1.5 -5.2M411.5 1654.7l4.3 -3.1M410.3 1697.1l4.6 -4.0M410.8 1715.1l4.1 -5.3M409.8 1723.6l-1.0 -4.7M413.3 1737.9l2.1 -2.7M406.5 1757.2l2.8 -5.1M421.1 1610.3l2.6 -5.7M422.5 1643.9l5.8 -2.6M421.9 1667.8l2.8 -2.6M422.4 1725.6l3.2 -6.0M422.1 1759.6l2.7 -2.7M431.1 1607.8l-1.1 -3.8M432.0 1621.6l-4.3 -3.1M434.7 1625.2l-4.7 -1.7M438.1 1651.2l-0.8 -6.4M434.9 1697.9l4.2 -4.8M428.5 1708.5l5.2 -3.0M429.0 1727.4l2.9 -3.5M430.6 1747.1l-0.4 -6.0M446.9 1619.4l-3.2 -3.0M446.6 1691.8l2.7 -5.5M440.2 1700.9l3.6 -3.0M448.1 1737.9l-1.8 -6.7M455.6 1652.8l-1.3 -5.1M455.6 1677.5l4.4 -2.3M456.4 1690.0l-2.9 -1.4M453.2 1748.2l1.3 -6.9M461.1 1763.3l-1.8 -6.5M466.9 1607.1l-2.0 -4.2M469.5 1632.8l-0.7 -3.3M470.1 1672.8l3.2 -2.2M470.7 1692.6l-2.6 -3.4M463.5 1708.9l4.2 -2.7M470.0 1760.4l-2.5 -6.2M479.0 1603.8l0.3 -6.3M473.1 1661.5l6.5 -2.1M482.6 1674.2l-4.8 -3.1M477.8 1699.0l3.7 -5.6M486.3 1747.2l-6.4 -1.7M490.6 1617.9l-0.3 -3.8M491.1 1655.9l2.7 -3.3M496.3 1684.9l-4.1 -0.4M492.3 1707.6l-5.3 1.2M491.9 1746.2l4.9 -2.3M503.1 1602.2l6.2 -1.9M498.6 1734.4l1.7 -6.6M514.9 1634.2l-5.1 -4.2M509.4 1652.2l4.0 -3.9M513.8 1727.2l2.6 -5.0M513.6 1744.6l-4.6 -2.4M516.6 1764.6l-0.2 -6.0M525.4 1614.7l-0.7 -3.6M526.9 1687.1l0.6 -3.8M522.5 1714.1l5.6 -3.2M527.1 1756.9l3.5 -1.9M534.7 1603.6l-0.5 -3.3M534.1 1661.7l-2.3 -2.7M539.9 1679.9l-3.5 -4.2M531.8 1702.3l3.7 -4.5M531.6 1710.4l4.9 -1.6M538.0 1724.9l0.4 -4.5M534.0 1749.9l2.6 -6.3M549.9 1606.5l-0.8 -6.5M550.7 1619.6l0.7 -3.5M552.7 1638.5l-6.7 1.1M548.4 1663.1l-0.2 -5.0M549.1 1678.0l-4.3 0.5M560.9 1643.9l3.5 -2.2M562.5 1724.0l0.2 -3.2" stroke="#ecd9aa" stroke-width="1.5" opacity="0.63"/>
</g>
<rect x="370.9" y="1598.8" width="194.2" height="164.6" filter="url(#noise)" fill="#5a4a20" opacity="0.18"/>
</g>
<rect x="372.05" y="1599.95" width="191.9" height="162.3" fill="none" stroke="#000" stroke-width="2.3"/>
<clipPath id="pc5"><rect x="160.6" y="1774.2" width="194" height="164.8"/></clipPath>
<rect x="160.6" y="1774.2" width="194" height="164.8" fill="#c5a561"/>
<g clip-path="url(#pc5)">
<circle cx="210.6" cy="1834.2" r="50" fill="#c09f5c" opacity="0.6" filter="url(#blurbig)"/>
<circle cx="200.6" cy="1924.2" r="40" fill="#cfb478" opacity="0.5" filter="url(#blurbig)"/>
<circle cx="330.6" cy="1914.2" r="30" fill="#cdb072" opacity="0.4" filter="url(#blurbig)"/>
<g filter="url(#blurc3)" fill="none" stroke-linecap="round">
<path d="M167.4 1825.5l0.4 -2.9M171.7 1854.2l-2.3 -4.0M174.7 1864.0l-0.8 -4.8M169.3 1915.0l-3.8 -0.6M188.4 1784.6l0.5 -3.2M193.6 1821.2l-1.0 -4.2M190.4 1885.9l-3.3 -0.5M186.5 1907.9l2.4 -4.0M208.3 1876.5l1.8 -4.1M217.0 1894.0l3.7 -2.4M238.6 1783.8l0.3 -4.8M237.3 1807.2l0.3 -5.0M239.8 1913.4l1.8 -4.2M251.8 1859.9l4.1 -2.1M253.7 1916.7l0.2 -3.4M275.3 1812.1l3.0 -4.0M282.9 1844.3l-0.9 -3.7M280.2 1873.2l3.3 -2.0M276.7 1910.2l1.5 -4.4M293.6 1847.1l3.9 -3.4M292.5 1863.4l3.3 -2.7M302.0 1892.8l-2.5 -3.0M319.3 1834.6l0.2 -4.5M331.8 1850.7l-4.9 -0.7M316.1 1893.9l-3.1 -1.2M325.9 1925.8l2.1 -4.4M352.0 1789.6l-0.9 -4.8M351.9 1861.0l-2.9 -1.5M339.0 1889.4l-4.4 -0.4" stroke="#937c45" stroke-width="3.2" opacity="0.6"/>
<path d="M164.1 1811.2l-0.2 -5.1M168.0 1883.8l2.5 -1.8M168.8 1923.5l3.8 -3.5M201.4 1806.3l-4.3 -1.0M220.5 1784.6l-5.2 0.1M218.9 1811.0l-3.4 -1.6M212.1 1823.2l1.4 -4.1M216.0 1907.2l3.0 -3.7M244.3 1847.8l-3.9 -2.1M227.0 1886.0l2.3 -4.1M267.7 1823.6l-1.7 -2.9M265.0 1855.2l-2.6 -1.7M259.6 1927.8l2.7 -1.7M280.9 1885.2l-3.1 -3.6M295.0 1783.9l-0.3 -3.4M298.4 1805.5l-3.4 -0.8M295.2 1821.5l1.5 -3.2M322.3 1859.2l2.2 -1.9M347.7 1804.0l-3.8 -3.1M345.0 1931.0l0.0 -4.2" stroke="#937c45" stroke-width="4" opacity="0.46"/>
<path d="M166.2 1812.0l-0.3 -7.0M177.0 1864.8l-1.2 -7.2M167.4 1886.9l6.2 -4.4M171.0 1913.2l-6.7 -1.1M169.2 1926.0l5.8 -5.4M190.1 1787.8l1.3 -8.9M205.0 1805.0l-10.5 -2.5M196.2 1822.9l-2.1 -8.5M193.5 1888.4l-9.9 -1.4M186.8 1911.5l5.3 -8.9M223.0 1786.7l-10.2 0.1M209.7 1823.7l2.3 -6.5M205.4 1877.8l3.7 -8.5M215.9 1897.2l8.3 -5.3M217.3 1908.9l3.6 -4.6M241.5 1914.7l2.2 -5.0M267.5 1827.4l-4.9 -8.3M252.2 1862.1l5.3 -2.7M281.6 1847.9l-2.3 -9.7M277.5 1872.4l6.6 -4.0M283.9 1885.5l-5.9 -6.8M278.1 1912.6l2.7 -7.8M301.0 1808.3l-9.6 -2.4M296.0 1824.8l3.7 -8.0M293.5 1849.9l6.8 -5.9M292.3 1866.3l6.3 -5.3M334.7 1849.0l-10.1 -1.5M320.6 1863.4l8.3 -7.1M319.6 1893.0l-8.7 -3.2M323.4 1926.2l3.4 -7.0M350.4 1792.3l-1.7 -9.2M351.1 1804.0l-8.1 -6.5" stroke="#ead9a6" stroke-width="2" opacity="0.55"/>
<path d="M169.1 1828.5l1.1 -8.3M174.4 1854.7l-4.0 -7.1M221.3 1809.8l-6.6 -3.0M240.5 1786.7l0.6 -10.3M239.3 1809.5l0.6 -9.5M246.2 1851.2l-9.8 -5.3M227.2 1889.9l5.4 -9.7M268.5 1855.0l-7.5 -4.8M255.6 1918.5l0.4 -6.8M256.3 1927.4l7.0 -4.5M272.0 1813.0l6.3 -8.4M297.4 1787.4l-1.0 -10.9M305.5 1893.8l-6.3 -7.7M317.2 1834.9l0.2 -5.3M352.7 1863.8l-6.5 -3.3M340.4 1891.6l-7.6 -0.6M347.1 1931.7l0.0 -5.5" stroke="#ead9a6" stroke-width="1.5" opacity="0.45"/>
<circle cx="193.85" cy="1803.21" r="1.3" fill="#fff3cc" opacity="0.85" stroke="none"/>
<circle cx="316.65" cy="1823.26" r="1.6" fill="#fff3cc" opacity="0.85" stroke="none"/>
<circle cx="175.05" cy="1909.1" r="1.5" fill="#fff3cc" opacity="0.85" stroke="none"/>
<circle cx="345.48" cy="1907.84" r="1.6" fill="#fff3cc" opacity="0.85" stroke="none"/>
<circle cx="340.46" cy="1930.4" r="1.3" fill="#fff3cc" opacity="0.85" stroke="none"/>
<circle cx="166.9" cy="1862.73" r="1.5" fill="#fff3cc" opacity="0.85" stroke="none"/>
</g>
<g filter="url(#blurc2)">
<ellipse cx="240.84" cy="1799.45" rx="5.46" ry="3.34" fill="#317c71" opacity="0.9" transform="rotate(125.73 240.84 1799.45)"/>
<ellipse cx="240.89" cy="1799.84" rx="2.1" ry="1.68" fill="#1f5f50" opacity="0.55"/>
<path d="M246.1 1794.9l-2.3 3.2" stroke="#ead9a6" stroke-width="1.3" opacity="0.7" stroke-linecap="round"/>
<ellipse cx="228.93" cy="1816.12" rx="4.16" ry="2.34" fill="#3f755b" opacity="0.9" transform="rotate(58.48 228.93 1816.12)"/>
<ellipse cx="228.04" cy="1817.01" rx="1.6" ry="1.28" fill="#1f5f50" opacity="0.55"/>
<path d="M231.2 1816.4l2.1 3.4" stroke="#ead9a6" stroke-width="1.3" opacity="0.7" stroke-linecap="round"/>
<ellipse cx="285.33" cy="1790.68" rx="3.9" ry="2.63" fill="#646d3c" opacity="0.9" transform="rotate(103.34 285.33 1790.68)"/>
<path d="M289.3 1787.9l-0.9 3.9" stroke="#ead9a6" stroke-width="1.3" opacity="0.7" stroke-linecap="round"/>
<ellipse cx="280.31" cy="1825.14" rx="6.5" ry="4.28" fill="#317258" opacity="0.9" transform="rotate(122.67 280.31 1825.14)"/>
<ellipse cx="279.72" cy="1825.99" rx="2.5" ry="2" fill="#1f5f50" opacity="0.55"/>
<path d="M286.4 1820.2l-2.2 3.4" stroke="#ead9a6" stroke-width="1.3" opacity="0.7" stroke-linecap="round"/>
<ellipse cx="309.14" cy="1820.13" rx="5.46" ry="3.81" fill="#3b7c62" opacity="0.9" transform="rotate(45.74 309.14 1820.13)"/>
<ellipse cx="309.79" cy="1821.02" rx="2.1" ry="1.68" fill="#1f5f50" opacity="0.55"/>
<path d="M311.3 1822.2l2.8 2.9" stroke="#ead9a6" stroke-width="1.3" opacity="0.7" stroke-linecap="round"/>
<ellipse cx="336.7" cy="1799.45" rx="5.46" ry="3.54" fill="#3f8168" opacity="0.9" transform="rotate(175.08 336.7 1799.45)"/>
<ellipse cx="337.52" cy="1798.87" rx="2.1" ry="1.68" fill="#1f5f50" opacity="0.55"/>
<path d="M339.1 1794.3l-4.0 0.3" stroke="#ead9a6" stroke-width="1.3" opacity="0.7" stroke-linecap="round"/>
<ellipse cx="322.92" cy="1806.34" rx="3.9" ry="2.64" fill="#567c55" opacity="0.9" transform="rotate(102.75 322.92 1806.34)"/>
<path d="M326.9 1803.6l-0.9 3.9" stroke="#ead9a6" stroke-width="1.3" opacity="0.7" stroke-linecap="round"/>
<ellipse cx="334.2" cy="1835.16" rx="6.24" ry="3.44" fill="#3f7c55" opacity="0.9" transform="rotate(81.85 334.2 1835.16)"/>
<ellipse cx="334.51" cy="1835.19" rx="2.4" ry="1.92" fill="#1f5f50" opacity="0.55"/>
<path d="M339.6 1834.0l0.6 4.0" stroke="#ead9a6" stroke-width="1.3" opacity="0.7" stroke-linecap="round"/>
<ellipse cx="263.4" cy="1832.66" rx="4.68" ry="2.61" fill="#3b755b" opacity="0.9" transform="rotate(34.83 263.4 1832.66)"/>
<ellipse cx="263.07" cy="1833.58" rx="1.8" ry="1.44" fill="#1f5f50" opacity="0.55"/>
<path d="M264.2 1835.1l3.3 2.3" stroke="#ead9a6" stroke-width="1.3" opacity="0.7" stroke-linecap="round"/>
<ellipse cx="252.74" cy="1843.93" rx="4.16" ry="2.28" fill="#567c5b" opacity="0.9" transform="rotate(34.85 252.74 1843.93)"/>
<ellipse cx="253.33" cy="1843.49" rx="1.6" ry="1.28" fill="#1f5f50" opacity="0.55"/>
<path d="M253.3 1845.9l3.3 2.3" stroke="#ead9a6" stroke-width="1.3" opacity="0.7" stroke-linecap="round"/>
<ellipse cx="289.71" cy="1852.08" rx="4.68" ry="3.17" fill="#3b7c64" opacity="0.9" transform="rotate(31.09 289.71 1852.08)"/>
<ellipse cx="290.11" cy="1852.65" rx="1.8" ry="1.44" fill="#1f5f50" opacity="0.55"/>
<path d="M290.2 1854.7l3.4 2.1" stroke="#ead9a6" stroke-width="1.3" opacity="0.7" stroke-linecap="round"/>
<ellipse cx="274.05" cy="1863.98" rx="6.24" ry="3.6" fill="#3b7c62" opacity="0.9" transform="rotate(23.97 274.05 1863.98)"/>
<ellipse cx="273.26" cy="1864.05" rx="2.4" ry="1.92" fill="#1f5f50" opacity="0.55"/>
<path d="M274.6 1868.4l3.7 1.6" stroke="#ead9a6" stroke-width="1.3" opacity="0.7" stroke-linecap="round"/>
<ellipse cx="240.21" cy="1863.98" rx="5.46" ry="3.38" fill="#56805f" opacity="0.9" transform="rotate(49.01 240.21 1863.98)"/>
<ellipse cx="239.55" cy="1863.17" rx="2.1" ry="1.68" fill="#1f5f50" opacity="0.55"/>
<path d="M242.7 1865.8l2.6 3.0" stroke="#ead9a6" stroke-width="1.3" opacity="0.7" stroke-linecap="round"/>
<ellipse cx="220.16" cy="1872.76" rx="3.9" ry="2.8" fill="#487c62" opacity="0.9" transform="rotate(39.84 220.16 1872.76)"/>
<path d="M220.9 1874.2l3.1 2.6" stroke="#ead9a6" stroke-width="1.3" opacity="0.7" stroke-linecap="round"/>
<ellipse cx="341.72" cy="1882.78" rx="5.98" ry="3.22" fill="#318071" opacity="0.9" transform="rotate(38.44 341.72 1882.78)"/>
<ellipse cx="341.47" cy="1881.93" rx="2.3" ry="1.84" fill="#1f5f50" opacity="0.55"/>
<path d="M343.6 1885.9l3.1 2.5" stroke="#ead9a6" stroke-width="1.3" opacity="0.7" stroke-linecap="round"/>
<ellipse cx="276.55" cy="1890.3" rx="4.16" ry="2.17" fill="#3f8068" opacity="0.9" transform="rotate(142.17 276.55 1890.3)"/>
<ellipse cx="277.43" cy="1890.09" rx="1.6" ry="1.28" fill="#1f5f50" opacity="0.55"/>
<path d="M280.5 1886.0l-3.2 2.5" stroke="#ead9a6" stroke-width="1.3" opacity="0.7" stroke-linecap="round"/>
<ellipse cx="286.58" cy="1897.82" rx="3.9" ry="2.1" fill="#488168" opacity="0.9" transform="rotate(12.63 286.58 1897.82)"/>
<path d="M285.4 1900.9l3.9 0.9" stroke="#ead9a6" stroke-width="1.3" opacity="0.7" stroke-linecap="round"/>
<ellipse cx="178.18" cy="1896.57" rx="4.94" ry="2.64" fill="#487c5b" opacity="0.9" transform="rotate(55.02 178.18 1896.57)"/>
<ellipse cx="179.03" cy="1897.03" rx="1.9" ry="1.52" fill="#1f5f50" opacity="0.55"/>
<path d="M180.8 1897.5l2.3 3.3" stroke="#ead9a6" stroke-width="1.3" opacity="0.7" stroke-linecap="round"/>
<ellipse cx="230.81" cy="1900.33" rx="3.9" ry="2.37" fill="#568162" opacity="0.9" transform="rotate(87.72 230.81 1900.33)"/>
<path d="M234.3 1898.5l0.2 4.0" stroke="#ead9a6" stroke-width="1.3" opacity="0.7" stroke-linecap="round"/>
<ellipse cx="317.91" cy="1900.33" rx="4.16" ry="2.59" fill="#317268" opacity="0.9" transform="rotate(149.4 317.91 1900.33)"/>
<ellipse cx="318.31" cy="1899.74" rx="1.6" ry="1.28" fill="#1f5f50" opacity="0.55"/>
<path d="M321.6 1896.0l-3.4 2.0" stroke="#ead9a6" stroke-width="1.3" opacity="0.7" stroke-linecap="round"/>
<ellipse cx="271.54" cy="1913.48" rx="5.2" ry="2.85" fill="#317258" opacity="0.9" transform="rotate(163.2 271.54 1913.48)"/>
<ellipse cx="272.34" cy="1914.27" rx="2" ry="1.6" fill="#1f5f50" opacity="0.55"/>
<path d="M274.8 1908.3l-3.8 1.2" stroke="#ead9a6" stroke-width="1.3" opacity="0.7" stroke-linecap="round"/>
<ellipse cx="280.94" cy="1929.15" rx="4.68" ry="2.68" fill="#3b755b" opacity="0.9" transform="rotate(8.27 280.94 1929.15)"/>
<ellipse cx="280.77" cy="1928.31" rx="1.8" ry="1.44" fill="#1f5f50" opacity="0.55"/>
<path d="M279.6 1933.1l4.0 0.6" stroke="#ead9a6" stroke-width="1.3" opacity="0.7" stroke-linecap="round"/>
<ellipse cx="226.43" cy="1920.38" rx="3.9" ry="2.43" fill="#647c4e" opacity="0.9" transform="rotate(105.31 226.43 1920.38)"/>
<path d="M230.4 1917.5l-1.1 3.9" stroke="#ead9a6" stroke-width="1.3" opacity="0.7" stroke-linecap="round"/>
<ellipse cx="311.02" cy="1925.39" rx="4.42" ry="2.29" fill="#717c48" opacity="0.9" transform="rotate(140.71 311.02 1925.39)"/>
<ellipse cx="310.13" cy="1925.06" rx="1.7" ry="1.36" fill="#1f5f50" opacity="0.55"/>
<path d="M315.1 1921.0l-3.1 2.5" stroke="#ead9a6" stroke-width="1.3" opacity="0.7" stroke-linecap="round"/>
<ellipse cx="314.77" cy="1869" rx="3.38" ry="2.02" fill="#566d41" opacity="0.9" transform="rotate(62.97 314.77 1869)"/>
<path d="M316.6 1868.6l1.8 3.6" stroke="#ead9a6" stroke-width="1.3" opacity="0.7" stroke-linecap="round"/>
<ellipse cx="186.33" cy="1918.5" rx="3.38" ry="2.35" fill="#568162" opacity="0.9" transform="rotate(111.9 186.33 1918.5)"/>
<path d="M190.0 1915.5l-1.5 3.7" stroke="#ead9a6" stroke-width="1.3" opacity="0.7" stroke-linecap="round"/>
<ellipse cx="339.21" cy="1896.57" rx="3.38" ry="1.81" fill="#646d3b" opacity="0.9" transform="rotate(15.35 339.21 1896.57)"/>
<path d="M338.1 1899.0l3.9 1.1" stroke="#ead9a6" stroke-width="1.3" opacity="0.7" stroke-linecap="round"/>
<ellipse cx="267.78" cy="1876.52" rx="3.9" ry="2.68" fill="#648a6c" opacity="0.9" transform="rotate(168.33 267.78 1876.52)"/>
<path d="M270.5 1872.6l-3.9 0.8" stroke="#ead9a6" stroke-width="1.3" opacity="0.7" stroke-linecap="round"/>
<ellipse cx="261.52" cy="1886.54" rx="3.38" ry="2.44" fill="#3f7c64" opacity="0.9" transform="rotate(113.69 261.52 1886.54)"/>
<path d="M265.2 1883.5l-1.6 3.7" stroke="#ead9a6" stroke-width="1.3" opacity="0.7" stroke-linecap="round"/>
<ellipse cx="296.6" cy="1840.18" rx="3.12" ry="1.91" fill="#486d4e" opacity="0.9" transform="rotate(10.63 296.6 1840.18)"/>
<path d="M295.2 1842.6l3.9 0.7" stroke="#ead9a6" stroke-width="1.3" opacity="0.7" stroke-linecap="round"/>
</g>
<rect x="160.6" y="1774.2" width="194" height="164.8" filter="url(#noise)" fill="#5a4a20" opacity="0.18"/>
</g>
<rect x="161.75" y="1775.35" width="191.7" height="162.5" fill="none" stroke="#000" stroke-width="2.3"/>
<clipPath id="pc6"><rect x="370.9" y="1774.2" width="194.2" height="164.8"/></clipPath>
<rect x="370.9" y="1774.2" width="194.2" height="164.8" fill="#d5bb82"/>
<g clip-path="url(#pc6)">
<circle cx="490.9" cy="1864.2" r="50" fill="#dcc590" opacity="0.5" filter="url(#blurbig)"/>
<g filter="url(#blurc)" fill="none" stroke-linecap="round">
<path d="M377.3 1803.1l1.3 -1.0M382.2 1859.5l0.3 -1.4M382.9 1881.6l-0.1 -1.1M378.5 1897.4l-1.3 -0.6M387.7 1908.0l-0.2 -1.7M391.3 1781.5l-0.1 -1.5M399.7 1812.5l-1.6 -0.2M398.5 1851.9l1.2 -0.5M402.4 1936.4l-1.5 -0.7M419.6 1821.1l-2.0 -0.5M417.6 1839.9l-0.2 -1.9M418.2 1864.5l0.8 -1.6M427.2 1789.8l-0.4 -1.3M424.7 1835.8l0.1 -1.5M432.6 1863.6l-0.7 -1.5M433.8 1879.6l-2.0 -0.2M435.6 1904.0l1.9 -0.8M443.2 1910.7l0.0 -1.4M446.9 1922.5l1.8 -1.1M469.4 1887.9l1.3 -1.5M485.3 1786.3l1.6 -0.9M483.1 1836.0l0.1 -1.7M492.9 1877.9l0.4 -1.5M483.3 1932.0l-1.4 0.2M505.7 1805.2l-1.5 -0.7M507.0 1819.2l1.4 -1.4M496.9 1853.5l1.2 -1.7M513.9 1799.6l-0.1 -1.4M513.3 1833.4l0.5 -1.9M518.8 1854.5l-0.2 -1.9M524.3 1878.6l1.2 -1.5M526.3 1891.4l-1.2 -0.1M537.1 1820.2l0.7 -1.1M534.0 1882.0l1.4 -0.4M534.0 1895.1l-1.9 -0.0M556.0 1787.3l-0.4 -1.4M563.0 1843.9l0.0 -1.4M560.2 1871.5l1.2 -1.3M552.0 1916.6l1.3 -1.0" stroke="#a08450" stroke-width="3.2" opacity="0.9"/>
<path d="M372.5 1835.2l1.7 -1.0M397.7 1802.9l1.5 -0.9M417.8 1777.5l1.3 -1.3M417.9 1805.3l-0.8 -1.2M419.6 1876.8l0.2 -1.5M408.6 1909.1l1.2 -1.0M410.9 1934.9l1.1 -0.9M433.5 1798.5l-0.1 -1.5M431.6 1820.4l0.6 -1.9M435.4 1927.6l1.2 -0.7M447.5 1822.5l1.2 -1.1M453.3 1841.5l0.1 -1.5M447.8 1857.9l-0.9 -1.1M446.3 1879.1l-1.6 -0.3M445.6 1888.0l1.9 -0.8M463.3 1805.7l1.9 -0.6M466.6 1818.7l1.6 -0.8M471.7 1855.4l-0.9 -1.3M461.2 1873.1l1.5 -0.5M467.3 1915.1l1.1 -1.2M482.6 1806.1l1.4 -1.3M491.2 1862.6l1.5 -1.4M481.5 1886.4l1.2 -0.6M498.4 1791.3l-1.8 -0.0M505.3 1842.6l-0.3 -1.4M509.6 1878.2l0.4 -2.0M495.8 1888.1l0.2 -1.4M502.6 1910.6l-0.2 -1.4M506.5 1933.4l-1.8 -0.3M516.2 1785.1l0.9 -1.2M517.4 1821.3l0.6 -1.1M524.0 1910.8l0.9 -1.2M519.0 1934.0l0.9 -1.5M537.1 1782.4l-1.2 -1.0M535.3 1796.4l0.1 -1.2M538.2 1857.8l-0.6 -2.0M535.6 1914.3l-0.8 -0.9M559.9 1805.8l-0.7 -1.0M552.1 1827.5l0.7 -1.5M551.8 1858.8l-1.4 -1.0M559.9 1887.7l1.5 -0.5M549.9 1925.2l0.8 -1.7" stroke="#a08450" stroke-width="4" opacity="0.69"/>
<path d="M372.1 1837.9l4.7 -2.7M384.0 1861.4l0.9 -4.3M385.1 1883.5l-0.4 -5.2M381.9 1896.7l-6.4 -2.9M385.9 1910.9l-0.9 -6.9M393.5 1784.1l-0.4 -6.9M397.1 1805.7l4.9 -3.0M402.0 1814.9l-6.7 -1.0M397.9 1854.4l3.9 -1.6M405.9 1935.7l-6.7 -3.2M418.3 1780.0l3.3 -3.4M421.2 1806.6l-3.9 -6.1M421.0 1819.2l-3.9 -0.9M420.0 1842.1l-0.7 -6.6M417.1 1879.3l1.0 -7.2M408.1 1912.3l4.9 -4.0M411.3 1937.4l3.0 -2.6M426.8 1837.4l0.2 -4.5M435.8 1877.6l-5.7 -0.5M432.9 1926.7l3.9 -2.4M447.6 1825.4l4.1 -3.8M451.0 1858.6l-3.9 -5.1M448.4 1877.4l-5.1 -1.0M444.6 1890.7l5.6 -2.3M445.3 1913.0l0.0 -5.9M466.6 1821.0l3.4 -1.6M475.0 1856.6l-3.8 -6.0M459.6 1875.9l6.1 -2.0M469.4 1891.1l4.4 -5.2M480.3 1805.4l3.1 -3.0M485.1 1837.6l0.3 -4.7M508.6 1804.2l-5.4 -2.5M506.9 1822.3l4.7 -4.7M507.9 1844.5l-1.5 -6.1M497.5 1856.3l3.4 -4.8M507.1 1880.1l1.3 -6.6M497.3 1891.6l1.3 -7.6M509.3 1931.7l-6.8 -1.0M516.7 1788.0l3.2 -4.5M516.0 1800.9l-0.2 -4.1M521.1 1856.0l-0.7 -5.5M521.5 1878.7l3.4 -4.3M527.8 1889.3l-4.0 -0.2M520.0 1936.3l2.4 -3.8M540.4 1782.4l-5.1 -4.3M537.2 1798.0l0.5 -3.9M540.5 1858.2l-1.3 -3.9M538.7 1914.7l-3.7 -4.4M558.5 1788.6l-1.3 -5.0M562.5 1805.9l-2.5 -3.5M548.9 1829.3l3.3 -6.9M555.0 1858.5l-5.3 -3.9M559.2 1890.1l4.1 -1.4M550.9 1927.9l2.6 -5.3" stroke="#f4e6ba" stroke-width="2" opacity="0.77"/>
<path d="M374.3 1802.8l4.6 -3.6M415.2 1865.9l3.1 -6.3M429.8 1791.4l-1.7 -5.7M431.6 1801.5l-0.5 -7.2M433.2 1822.2l1.4 -4.3M435.1 1863.9l-1.9 -4.0M435.0 1906.6l4.8 -2.1M455.2 1843.9l0.5 -6.0M446.5 1925.2l4.7 -2.9M461.3 1808.5l7.1 -2.4M467.1 1918.4l4.6 -4.9M482.9 1785.3l4.4 -2.6M489.1 1861.7l2.6 -2.5M490.2 1880.0l1.6 -6.7M480.7 1889.1l4.8 -2.3M484.3 1929.7l-4.1 0.7M500.5 1789.3l-5.8 -0.1M505.1 1913.1l-1.0 -7.0M514.7 1821.9l2.5 -4.4M514.7 1836.4l1.8 -6.7M524.3 1913.9l3.6 -4.7M537.2 1824.0l4.0 -6.3M531.5 1880.6l5.3 -1.5M535.1 1897.3l-4.2 -0.0M560.9 1845.2l0.1 -4.0M557.9 1870.9l2.6 -2.9M548.8 1916.4l5.0 -4.0" stroke="#f4e6ba" stroke-width="1.5" opacity="0.63"/>
</g>
<g filter="url(#blurc2)">
<ellipse cx="472.77" cy="1810.1" rx="5.98" ry="3.09" fill="#6f9a78" opacity="0.85" transform="rotate(13.37 472.77 1810.1)"/>
<ellipse cx="472.76" cy="1810.26" rx="2.3" ry="1.84" fill="#4a6a48" opacity="0.55"/>
<path d="M472.1 1815.0l3.9 0.9" stroke="#f4e6ba" stroke-width="1.3" opacity="0.7" stroke-linecap="round"/>
<ellipse cx="451.47" cy="1807.59" rx="3.9" ry="2.39" fill="#3f7a5a" opacity="0.85" transform="rotate(68.16 451.47 1807.59)"/>
<path d="M454.1 1807.1l1.5 3.7" stroke="#f4e6ba" stroke-width="1.3" opacity="0.7" stroke-linecap="round"/>
<ellipse cx="430.16" cy="1807.59" rx="3.38" ry="2.44" fill="#5a8a68" opacity="0.85" transform="rotate(124.58 430.16 1807.59)"/>
<path d="M433.9 1804.2l-2.3 3.3" stroke="#f4e6ba" stroke-width="1.3" opacity="0.7" stroke-linecap="round"/>
<ellipse cx="387.56" cy="1796.32" rx="3.9" ry="2.52" fill="#6a8058" opacity="0.85" transform="rotate(117.07 387.56 1796.32)"/>
<path d="M391.7 1792.9l-1.8 3.6" stroke="#f4e6ba" stroke-width="1.3" opacity="0.7" stroke-linecap="round"/>
<ellipse cx="385.68" cy="1813.86" rx="3.64" ry="2.59" fill="#4a6a50" opacity="0.85" transform="rotate(63.21 385.68 1813.86)"/>
<path d="M387.8 1813.6l1.8 3.6" stroke="#f4e6ba" stroke-width="1.3" opacity="0.7" stroke-linecap="round"/>
<ellipse cx="421.39" cy="1788.8" rx="3.9" ry="2.51" fill="#5a8058" opacity="0.85" transform="rotate(55.89 421.39 1788.8)"/>
<path d="M423.3 1789.2l2.2 3.3" stroke="#f4e6ba" stroke-width="1.3" opacity="0.7" stroke-linecap="round"/>
<ellipse cx="391.94" cy="1845.19" rx="4.16" ry="2.21" fill="#7a9a70" opacity="0.85" transform="rotate(147.45 391.94 1845.19)"/>
<ellipse cx="391.65" cy="1844.58" rx="1.6" ry="1.28" fill="#4a6a48" opacity="0.55"/>
<path d="M395.7 1840.9l-3.4 2.2" stroke="#f4e6ba" stroke-width="1.3" opacity="0.7" stroke-linecap="round"/>
<ellipse cx="447.71" cy="1851.45" rx="5.72" ry="3.76" fill="#5a9070" opacity="0.85" transform="rotate(67.44 447.71 1851.45)"/>
<ellipse cx="447.84" cy="1851.44" rx="2.2" ry="1.76" fill="#4a6a48" opacity="0.55"/>
<path d="M451.8 1851.6l1.5 3.7" stroke="#f4e6ba" stroke-width="1.3" opacity="0.7" stroke-linecap="round"/>
<ellipse cx="521.02" cy="1852.08" rx="5.46" ry="3.58" fill="#8a9a70" opacity="0.85" transform="rotate(87.94 521.02 1852.08)"/>
<ellipse cx="520.1" cy="1851.86" rx="2.1" ry="1.68" fill="#4a6a48" opacity="0.55"/>
<path d="M526.0 1850.3l0.1 4.0" stroke="#f4e6ba" stroke-width="1.3" opacity="0.7" stroke-linecap="round"/>
<ellipse cx="457.11" cy="1875.26" rx="3.9" ry="2.39" fill="#4f8f78" opacity="0.85" transform="rotate(125.92 457.11 1875.26)"/>
<path d="M461.2 1871.5l-2.3 3.2" stroke="#f4e6ba" stroke-width="1.3" opacity="0.7" stroke-linecap="round"/>
<ellipse cx="426.4" cy="1885.29" rx="4.42" ry="2.57" fill="#5a9068" opacity="0.85" transform="rotate(169.55 426.4 1885.29)"/>
<ellipse cx="427.01" cy="1884.85" rx="1.7" ry="1.36" fill="#4a6a48" opacity="0.55"/>
<path d="M429.1 1880.9l-3.9 0.7" stroke="#f4e6ba" stroke-width="1.3" opacity="0.7" stroke-linecap="round"/>
<ellipse cx="408.86" cy="1891.55" rx="4.68" ry="2.71" fill="#5a9070" opacity="0.85" transform="rotate(150.39 408.86 1891.55)"/>
<ellipse cx="408.06" cy="1891.65" rx="1.8" ry="1.44" fill="#4a6a48" opacity="0.55"/>
<path d="M412.7 1886.8l-3.5 2.0" stroke="#f4e6ba" stroke-width="1.3" opacity="0.7" stroke-linecap="round"/>
<ellipse cx="426.4" cy="1897.82" rx="3.9" ry="2.48" fill="#6a8a58" opacity="0.85" transform="rotate(81.51 426.4 1897.82)"/>
<path d="M429.7 1896.4l0.6 4.0" stroke="#f4e6ba" stroke-width="1.3" opacity="0.7" stroke-linecap="round"/>
<ellipse cx="380.66" cy="1905.34" rx="4.42" ry="2.58" fill="#6a8a58" opacity="0.85" transform="rotate(7.07 380.66 1905.34)"/>
<ellipse cx="380.82" cy="1906.33" rx="1.7" ry="1.36" fill="#4a6a48" opacity="0.55"/>
<path d="M379.2 1909.1l4.0 0.5" stroke="#f4e6ba" stroke-width="1.3" opacity="0.7" stroke-linecap="round"/>
<ellipse cx="437.68" cy="1921.63" rx="4.42" ry="2.73" fill="#5a8a60" opacity="0.85" transform="rotate(72.93 437.68 1921.63)"/>
<ellipse cx="437.71" cy="1922.34" rx="1.7" ry="1.36" fill="#4a6a48" opacity="0.55"/>
<path d="M441.0 1920.9l1.2 3.8" stroke="#f4e6ba" stroke-width="1.3" opacity="0.7" stroke-linecap="round"/>
<ellipse cx="557.98" cy="1820.13" rx="3.9" ry="2.75" fill="#7a9070" opacity="0.85" transform="rotate(50.33 557.98 1820.13)"/>
<path d="M559.5 1820.9l2.6 3.1" stroke="#f4e6ba" stroke-width="1.3" opacity="0.7" stroke-linecap="round"/>
<ellipse cx="546.7" cy="1842.68" rx="3.38" ry="1.74" fill="#6a8a68" opacity="0.85" transform="rotate(53.21 546.7 1842.68)"/>
<path d="M548.0 1842.9l2.4 3.2" stroke="#f4e6ba" stroke-width="1.3" opacity="0.7" stroke-linecap="round"/>
<ellipse cx="560.49" cy="1872.76" rx="3.9" ry="2.27" fill="#5a9078" opacity="0.85" transform="rotate(94.3 560.49 1872.76)"/>
<path d="M564.2 1870.5l-0.3 4.0" stroke="#f4e6ba" stroke-width="1.3" opacity="0.7" stroke-linecap="round"/>
<ellipse cx="447.71" cy="1907.84" rx="3.38" ry="2.43" fill="#6a7a50" opacity="0.85" transform="rotate(93.02 447.71 1907.84)"/>
<path d="M450.9 1905.7l-0.2 4.0" stroke="#f4e6ba" stroke-width="1.3" opacity="0.7" stroke-linecap="round"/>
<ellipse cx="374.4" cy="1880.28" rx="3.38" ry="1.89" fill="#5a9070" opacity="0.85" transform="rotate(132.54 374.4 1880.28)"/>
<path d="M378.0 1876.7l-2.7 2.9" stroke="#f4e6ba" stroke-width="1.3" opacity="0.7" stroke-linecap="round"/>
</g>
<rect x="370.9" y="1774.2" width="194.2" height="164.8" filter="url(#noise)" fill="#5a4a20" opacity="0.18"/>
</g>
<rect x="372.05" y="1775.35" width="191.9" height="162.5" fill="none" stroke="#000" stroke-width="2.3"/>
<text x="531.6" y="1908.9" font-size="13" text-anchor="middle">0.15 mm</text>
<rect x="516.3" y="1915.7" width="31.1" height="5.1" fill="#000"/>
<text x="0.5" y="2029.4" font-size="54" font-weight="bold">e</text>
<line x1="122.5" y1="2085.5" x2="122.5" y2="2298.2" stroke="#000" stroke-width="3.4"/>
<line x1="120.8" y1="2296.5" x2="438.2" y2="2296.5" stroke="#000" stroke-width="3.4"/>
<line x1="115" y1="2296.5" x2="122.5" y2="2296.5" stroke="#000" stroke-width="3"/>
<text x="113.5" y="2305.7" font-size="25.6" text-anchor="end">0</text>
<line x1="115" y1="2254.65" x2="122.5" y2="2254.65" stroke="#000" stroke-width="3"/>
<text x="113.5" y="2263.85" font-size="25.6" text-anchor="end">20</text>
<line x1="115" y1="2212.8" x2="122.5" y2="2212.8" stroke="#000" stroke-width="3"/>
<text x="113.5" y="2222" font-size="25.6" text-anchor="end">40</text>
<line x1="115" y1="2170.95" x2="122.5" y2="2170.95" stroke="#000" stroke-width="3"/>
<text x="113.5" y="2180.15" font-size="25.6" text-anchor="end">60</text>
<line x1="115" y1="2129.1" x2="122.5" y2="2129.1" stroke="#000" stroke-width="3"/>
<text x="113.5" y="2138.3" font-size="25.6" text-anchor="end">80</text>
<line x1="115" y1="2087.25" x2="122.5" y2="2087.25" stroke="#000" stroke-width="3"/>
<text x="113.5" y="2096.45" font-size="25.6" text-anchor="end">100</text>
<line x1="200.7" y1="2296.5" x2="200.7" y2="2303.5" stroke="#000" stroke-width="3"/>
<text x="200.7" y="2328.5" font-size="25.8" text-anchor="middle">PDL5</text>
<line x1="358" y1="2296.5" x2="358" y2="2303.5" stroke="#000" stroke-width="3"/>
<text x="358" y="2328.5" font-size="25.8" text-anchor="middle">PDL9</text>
<text transform="translate(66.5 2186.8) rotate(-90)" font-size="19.8" text-anchor="middle">SA-<tspan font-family='"Liberation Serif","DejaVu Serif",serif'>β</tspan>-Gal positive (%)</text>
<text x="309.5" y="2055" font-size="20.4"><tspan font-style="italic">p</tspan> &lt; 0.0001</text>
<line x1="335.7" y1="2072.3" x2="374.4" y2="2072.3" stroke="#000" stroke-width="3.2"/>
<line x1="336" y1="2062.6" x2="336" y2="2081.6" stroke="#000" stroke-width="3.2"/>
<line x1="374.1" y1="2062.6" x2="374.1" y2="2081.6" stroke="#000" stroke-width="3.2"/>
<line x1="151.8" y1="2293" x2="190.5" y2="2293" stroke="#ff0000" stroke-width="2.4"/>
<circle cx="158.5" cy="2292.6" r="4.4" fill="#ff0000"/>
<circle cx="171" cy="2292.6" r="4.4" fill="#ff0000"/>
<circle cx="183.1" cy="2292.6" r="4.4" fill="#ff0000"/>
<line x1="211.3" y1="2293.7" x2="249.2" y2="2293.7" stroke="#0000ff" stroke-width="2.4"/>
<rect x="212.8" y="2288.9" width="8.6" height="8.6" fill="#0000ff"/>
<rect x="225.7" y="2289.7" width="8.6" height="8.6" fill="#0000ff"/>
<rect x="238.3" y="2288.9" width="8.6" height="8.6" fill="#0000ff"/>
<line x1="309" y1="2099.7" x2="348.2" y2="2099.7" stroke="#ff0000" stroke-width="2.4"/>
<line x1="327.9" y1="2095" x2="327.9" y2="2105.5" stroke="#ff0000" stroke-width="2.6"/>
<line x1="318.65" y1="2095" x2="337.15" y2="2095" stroke="#ff0000" stroke-width="2.6"/>
<line x1="318.65" y1="2105.5" x2="337.15" y2="2105.5" stroke="#ff0000" stroke-width="2.6"/>
<circle cx="315.7" cy="2096.8" r="4.4" fill="#ff0000"/>
<circle cx="340.4" cy="2096.8" r="4.4" fill="#ff0000"/>
<circle cx="327.9" cy="2106.8" r="4.4" fill="#ff0000"/>
<line x1="367.8" y1="2262" x2="406.9" y2="2262" stroke="#0000ff" stroke-width="2.4"/>
<line x1="387.3" y1="2255" x2="387.3" y2="2269.5" stroke="#0000ff" stroke-width="2.6"/>
<line x1="377.8" y1="2255" x2="396.8" y2="2255" stroke="#0000ff" stroke-width="2.6"/>
<line x1="377.8" y1="2269.5" x2="396.8" y2="2269.5" stroke="#0000ff" stroke-width="2.6"/>
<rect x="383" y="2253.7" width="8.6" height="8.6" fill="#0000ff"/>
<rect x="388.9" y="2253.7" width="8.6" height="8.6" fill="#0000ff"/>
<rect x="377.2" y="2266" width="8.6" height="8.6" fill="#0000ff"/>
<circle cx="431.1" cy="2114.5" r="4.5" fill="#ff0000"/>
<rect x="426.8" y="2136.1" width="8.6" height="8.6" fill="#0000ff"/>
<text x="455.3" y="2123.2" font-size="26">DMSO</text>
<text x="455.3" y="2149.7" font-size="26">corylin 5 <tspan font-family='"Liberation Serif","DejaVu Serif",serif' font-size="27">μ</tspan>M</text>
<text x="800" y="38.5" font-size="54" font-weight="bold">f</text>
<text x="1234.7" y="64.7" font-size="30" text-anchor="middle">S/Y</text>
<ellipse cx="1235" cy="183.3" rx="114" ry="98.4" fill="#b4bfd1"/>
<ellipse cx="1170.2" cy="290.7" rx="113.8" ry="98.8" fill="#bfe198"/>
<ellipse cx="1306.4" cy="290.7" rx="114" ry="98.8" fill="#ff6666"/>
<g clip-path="url(#vtop)"><ellipse cx="1170.2" cy="290.7" rx="113.8" ry="98.8" fill="#a1c783"/><ellipse cx="1306.4" cy="290.7" rx="114" ry="98.8" fill="#e34650"/></g>
<g clip-path="url(#vleft)"><ellipse cx="1306.4" cy="290.7" rx="114" ry="98.8" fill="#bfa657"/></g>
<g clip-path="url(#vtop)"><g clip-path="url(#vleft)"><ellipse cx="1306.4" cy="290.7" rx="114" ry="98.8" fill="#b3944f"/></g></g>
<text x="1235" y="165" font-size="29.4" text-anchor="middle">365</text>
<text x="1173" y="232" font-size="29.4" text-anchor="middle">433</text>
<text x="1299.4" y="229.8" font-size="29.4" text-anchor="middle">251</text>
<text x="1240.8" y="271.6" font-size="29.4" text-anchor="middle">56</text>
<text x="1141" y="336.7" font-size="29.4" text-anchor="middle">223</text>
<text x="1238.6" y="338" font-size="29.4" text-anchor="middle">44</text>
<text x="1334.6" y="335.8" font-size="29.4" text-anchor="middle">219</text>
<text x="1148.8" y="429" font-size="29.8" text-anchor="middle">S+C/S</text>
<text x="1325" y="431.3" font-size="29.8" text-anchor="middle">S+C/Y</text>
<text x="800.5" y="491.3" font-size="54" font-weight="bold">g</text>
<text x="1336.4" y="535.2" font-size="24.8" text-anchor="middle">GeneRatio (%)</text>
<rect x="1139.4" y="586.9" width="196" height="20.6" fill="#0000ff"/>
<rect x="1139.4" y="612" width="176.4" height="20.6" fill="#ff0000"/>
<rect x="1139.4" y="654" width="374.9" height="20.6" fill="#0000ff"/>
<rect x="1139.4" y="679.1" width="277.7" height="20.6" fill="#ff0000"/>
<rect x="1139.4" y="721.2" width="165.9" height="20.6" fill="#0000ff"/>
<rect x="1139.4" y="746.3" width="121.3" height="20.6" fill="#ff0000"/>
<rect x="1139.4" y="788.4" width="136.3" height="20.6" fill="#0000ff"/>
<rect x="1139.4" y="813.5" width="139.8" height="20.6" fill="#ff0000"/>
<line x1="1137.4" y1="575.3" x2="1535.4" y2="575.3" stroke="#000" stroke-width="4"/>
<line x1="1139.4" y1="573.3" x2="1139.4" y2="846.5" stroke="#000" stroke-width="4"/>
<line x1="1139.4" y1="575.3" x2="1139.4" y2="584.2" stroke="#000" stroke-width="3.6"/>
<text x="1138.9" y="567.8" font-size="24.6" text-anchor="middle">0</text>
<line x1="1218.24" y1="575.3" x2="1218.24" y2="584.2" stroke="#000" stroke-width="3.6"/>
<text x="1217.74" y="567.8" font-size="24.6" text-anchor="middle">2</text>
<line x1="1297.08" y1="575.3" x2="1297.08" y2="584.2" stroke="#000" stroke-width="3.6"/>
<text x="1296.58" y="567.8" font-size="24.6" text-anchor="middle">4</text>
<line x1="1375.92" y1="575.3" x2="1375.92" y2="584.2" stroke="#000" stroke-width="3.6"/>
<text x="1375.42" y="567.8" font-size="24.6" text-anchor="middle">6</text>
<line x1="1454.76" y1="575.3" x2="1454.76" y2="584.2" stroke="#000" stroke-width="3.6"/>
<text x="1454.26" y="567.8" font-size="24.6" text-anchor="middle">8</text>
<line x1="1533.3" y1="575.3" x2="1533.3" y2="584.2" stroke="#000" stroke-width="3.6"/>
<text x="1533.1" y="567.8" font-size="24.6" text-anchor="middle">10</text>
<line x1="1131.8" y1="610.4" x2="1139.4" y2="610.4" stroke="#000" stroke-width="3.6"/>
<text x="1129" y="618.6" font-size="25.2" text-anchor="end">Celluar senescence</text>
<line x1="1131.8" y1="677.1" x2="1139.4" y2="677.1" stroke="#000" stroke-width="3.6"/>
<text x="1129" y="685.3" font-size="25.2" text-anchor="end">Cell cycle</text>
<line x1="1131.8" y1="744.3" x2="1139.4" y2="744.3" stroke="#000" stroke-width="3.6"/>
<text x="1129" y="752.5" font-size="25.2" text-anchor="end">DNA replication</text>
<line x1="1131.8" y1="811.4" x2="1139.4" y2="811.4" stroke="#000" stroke-width="3.6"/>
<text x="1129" y="819.6" font-size="25.2" text-anchor="end">p53 signaling pathway</text>
<rect x="1441.7" y="768.3" width="32" height="17.3" fill="#ff0000"/>
<rect x="1441.7" y="798.9" width="32" height="17.5" fill="#0000ff"/>
<text x="1487.5" y="784" font-size="20.5">S/Y</text>
<text x="1487.5" y="815.2" font-size="20.5">SC/S</text>
<text x="679.5" y="927.5" font-size="54" font-weight="bold">h</text>
<text x="1185.5" y="927.5" font-size="54" font-weight="bold">i</text>
<rect x="830.8" y="1010.95" width="149.9" height="28.3" fill="#ff0000"/>
<rect x="980.7" y="1010.95" width="100.1" height="28.3" fill="#0000ff"/>
<line x1="783.2" y1="1025.1" x2="791.4" y2="1025.1" stroke="#000" stroke-width="3.8"/>
<text transform="translate(778.3 1036.7) scale(0.83 1)" font-size="32.8" text-anchor="end">DBF4</text>
<rect x="837.5" y="1045.94" width="143.2" height="28.3" fill="#ff0000"/>
<rect x="980.7" y="1045.94" width="128.2" height="28.3" fill="#0000ff"/>
<line x1="783.2" y1="1060.09" x2="791.4" y2="1060.09" stroke="#000" stroke-width="3.8"/>
<text transform="translate(778.3 1071.69) scale(0.82 1)" font-size="32.8" text-anchor="end">SFN</text>
<rect x="845.1" y="1080.93" width="135.6" height="28.3" fill="#ff0000"/>
<rect x="980.7" y="1080.93" width="125.3" height="28.3" fill="#0000ff"/>
<line x1="783.2" y1="1095.08" x2="791.4" y2="1095.08" stroke="#000" stroke-width="3.8"/>
<text transform="translate(778.3 1106.68) scale(0.83 1)" font-size="32.8" text-anchor="end">PLK1</text>
<rect x="841" y="1115.92" width="139.7" height="28.3" fill="#ff0000"/>
<rect x="980.7" y="1115.92" width="129.1" height="28.3" fill="#0000ff"/>
<line x1="783.2" y1="1130.07" x2="791.4" y2="1130.07" stroke="#000" stroke-width="3.8"/>
<text transform="translate(778.3 1141.67) scale(0.84 1)" font-size="32.8" text-anchor="end">CDC20</text>
<rect x="850.7" y="1150.91" width="130" height="28.3" fill="#ff0000"/>
<rect x="980.7" y="1150.91" width="76.3" height="28.3" fill="#0000ff"/>
<line x1="783.2" y1="1165.06" x2="791.4" y2="1165.06" stroke="#000" stroke-width="3.8"/>
<text transform="translate(778.3 1176.66) scale(0.84 1)" font-size="32.8" text-anchor="end">MCM6</text>
<rect x="853.1" y="1185.9" width="127.6" height="28.3" fill="#ff0000"/>
<rect x="980.7" y="1185.9" width="77.2" height="28.3" fill="#0000ff"/>
<line x1="783.2" y1="1200.05" x2="791.4" y2="1200.05" stroke="#000" stroke-width="3.8"/>
<text transform="translate(778.3 1211.65) scale(0.82 1)" font-size="32.8" text-anchor="end">ORC1</text>
<rect x="863" y="1220.89" width="117.7" height="28.3" fill="#ff0000"/>
<rect x="980.7" y="1220.89" width="117.7" height="28.3" fill="#0000ff"/>
<line x1="783.2" y1="1235.04" x2="791.4" y2="1235.04" stroke="#000" stroke-width="3.8"/>
<text transform="translate(778.3 1246.64) scale(0.84 1)" font-size="32.8" text-anchor="end">BUB1</text>
<rect x="866" y="1255.88" width="114.7" height="28.3" fill="#ff0000"/>
<rect x="980.7" y="1255.88" width="107.1" height="28.3" fill="#0000ff"/>
<line x1="783.2" y1="1270.03" x2="791.4" y2="1270.03" stroke="#000" stroke-width="3.8"/>
<text transform="translate(778.3 1281.63) scale(0.83 1)" font-size="32.8" text-anchor="end">MAD2L1</text>
<rect x="872.1" y="1290.87" width="108.6" height="28.3" fill="#ff0000"/>
<rect x="980.7" y="1290.87" width="120.9" height="28.3" fill="#0000ff"/>
<line x1="783.2" y1="1305.02" x2="791.4" y2="1305.02" stroke="#000" stroke-width="3.8"/>
<text transform="translate(778.3 1316.62) scale(0.83 1)" font-size="32.8" text-anchor="end">CCNB1</text>
<rect x="878" y="1325.86" width="102.7" height="28.3" fill="#ff0000"/>
<rect x="980.7" y="1325.86" width="124.7" height="28.3" fill="#0000ff"/>
<line x1="783.2" y1="1340.01" x2="791.4" y2="1340.01" stroke="#000" stroke-width="3.8"/>
<text transform="translate(778.3 1351.61) scale(0.83 1)" font-size="32.8" text-anchor="end">CCNB2</text>
<rect x="881.5" y="1360.85" width="99.2" height="28.3" fill="#ff0000"/>
<rect x="980.7" y="1360.85" width="80.7" height="28.3" fill="#0000ff"/>
<line x1="783.2" y1="1375" x2="791.4" y2="1375" stroke="#000" stroke-width="3.8"/>
<text transform="translate(778.3 1386.6) scale(0.84 1)" font-size="32.8" text-anchor="end">BUB1B</text>
<rect x="883.3" y="1395.84" width="97.4" height="28.3" fill="#ff0000"/>
<rect x="980.7" y="1395.84" width="75.4" height="28.3" fill="#0000ff"/>
<line x1="783.2" y1="1409.99" x2="791.4" y2="1409.99" stroke="#000" stroke-width="3.8"/>
<text transform="translate(778.3 1421.59) scale(0.83 1)" font-size="32.8" text-anchor="end">CDKN2C</text>
<rect x="887.4" y="1430.83" width="93.3" height="28.3" fill="#ff0000"/>
<rect x="980.7" y="1430.83" width="68.1" height="28.3" fill="#0000ff"/>
<line x1="783.2" y1="1444.98" x2="791.4" y2="1444.98" stroke="#000" stroke-width="3.8"/>
<text transform="translate(778.3 1456.58) scale(0.84 1)" font-size="32.8" text-anchor="end">MCM2</text>
<rect x="890" y="1465.82" width="90.7" height="28.3" fill="#ff0000"/>
<rect x="980.7" y="1465.82" width="75.7" height="28.3" fill="#0000ff"/>
<line x1="783.2" y1="1479.97" x2="791.4" y2="1479.97" stroke="#000" stroke-width="3.8"/>
<text transform="translate(778.3 1491.57) scale(0.83 1)" font-size="32.8" text-anchor="end">RBL1</text>
<rect x="897.7" y="1500.81" width="83" height="28.3" fill="#ff0000"/>
<rect x="980.7" y="1500.81" width="86" height="28.3" fill="#0000ff"/>
<line x1="783.2" y1="1514.96" x2="791.4" y2="1514.96" stroke="#000" stroke-width="3.8"/>
<text transform="translate(778.3 1526.56) scale(0.82 1)" font-size="32.8" text-anchor="end">CDK1</text>
<rect x="898.5" y="1535.8" width="82.2" height="28.3" fill="#ff0000"/>
<rect x="980.7" y="1535.8" width="66" height="28.3" fill="#0000ff"/>
<line x1="783.2" y1="1549.95" x2="791.4" y2="1549.95" stroke="#000" stroke-width="3.8"/>
<text transform="translate(778.3 1561.55) scale(0.83 1)" font-size="32.8" text-anchor="end">CDC45</text>
<rect x="817.3" y="1570.79" width="163.4" height="28.3" fill="#0000ff"/>
<rect x="980.7" y="1570.79" width="111.8" height="28.3" fill="#ff0000"/>
<line x1="783.2" y1="1584.94" x2="791.4" y2="1584.94" stroke="#000" stroke-width="3.8"/>
<text transform="translate(778.3 1596.54) scale(0.83 1)" font-size="32.8" text-anchor="end">CCND2</text>
<rect x="910.9" y="1605.78" width="69.8" height="28.3" fill="#0000ff"/>
<rect x="980.7" y="1605.78" width="158.2" height="28.3" fill="#ff0000"/>
<rect x="1160" y="1605.78" width="7" height="28.3" fill="#ff0000"/>
<line x1="783.2" y1="1619.93" x2="791.4" y2="1619.93" stroke="#000" stroke-width="3.8"/>
<text transform="translate(778.3 1631.53) scale(0.83 1)" font-size="32.8" text-anchor="end">TGFB2</text>
<rect x="885.3" y="1640.77" width="95.4" height="28.3" fill="#ff0000"/>
<rect x="980.7" y="1640.77" width="82.7" height="28.3" fill="#0000ff"/>
<line x1="783.2" y1="1654.92" x2="791.4" y2="1654.92" stroke="#000" stroke-width="3.8"/>
<text transform="translate(778.3 1666.52) scale(0.83 1)" font-size="32.8" text-anchor="end">FOXM1</text>
<rect x="894.1" y="1675.76" width="86.6" height="28.3" fill="#ff0000"/>
<rect x="980.7" y="1675.76" width="66.3" height="28.3" fill="#0000ff"/>
<line x1="783.2" y1="1689.91" x2="791.4" y2="1689.91" stroke="#000" stroke-width="3.8"/>
<text transform="translate(778.3 1701.51) scale(0.84 1)" font-size="32.8" text-anchor="end">MYBL2</text>
<rect x="894.7" y="1710.75" width="86" height="28.3" fill="#ff0000"/>
<rect x="980.7" y="1710.75" width="68.7" height="28.3" fill="#0000ff"/>
<line x1="783.2" y1="1724.9" x2="791.4" y2="1724.9" stroke="#000" stroke-width="3.8"/>
<text transform="translate(778.3 1736.5) scale(0.83 1)" font-size="32.8" text-anchor="end">LIN9</text>
<rect x="844" y="1745.74" width="136.7" height="28.3" fill="#0000ff"/>
<rect x="980.7" y="1745.74" width="158.2" height="28.3" fill="#ff0000"/>
<rect x="1160" y="1745.74" width="84.2" height="28.3" fill="#ff0000"/>
<line x1="783.2" y1="1759.89" x2="791.4" y2="1759.89" stroke="#000" stroke-width="3.8"/>
<text transform="translate(778.3 1771.49) scale(0.82 1)" font-size="32.8" text-anchor="end">CXCL8</text>
<rect x="854.2" y="1780.73" width="126.5" height="28.3" fill="#ff0000"/>
<rect x="980.7" y="1780.73" width="99.2" height="28.3" fill="#0000ff"/>
<line x1="783.2" y1="1794.88" x2="791.4" y2="1794.88" stroke="#000" stroke-width="3.8"/>
<text transform="translate(778.3 1806.48) scale(0.82 1)" font-size="32.8" text-anchor="end">POLE2</text>
<rect x="864.5" y="1815.72" width="116.2" height="28.3" fill="#ff0000"/>
<rect x="980.7" y="1815.72" width="78.9" height="28.3" fill="#0000ff"/>
<line x1="783.2" y1="1829.87" x2="791.4" y2="1829.87" stroke="#000" stroke-width="3.8"/>
<text transform="translate(778.3 1841.47) scale(0.84 1)" font-size="32.8" text-anchor="end">RFC3</text>
<rect x="877.4" y="1850.71" width="103.3" height="28.3" fill="#ff0000"/>
<rect x="980.7" y="1850.71" width="84.8" height="28.3" fill="#0000ff"/>
<line x1="783.2" y1="1864.86" x2="791.4" y2="1864.86" stroke="#000" stroke-width="3.8"/>
<text transform="translate(778.3 1876.46) scale(0.84 1)" font-size="32.8" text-anchor="end">PRIM1</text>
<rect x="882.1" y="1885.7" width="98.6" height="28.3" fill="#ff0000"/>
<rect x="980.7" y="1885.7" width="65.7" height="28.3" fill="#0000ff"/>
<line x1="783.2" y1="1899.85" x2="791.4" y2="1899.85" stroke="#000" stroke-width="3.8"/>
<text transform="translate(778.3 1911.45) scale(0.82 1)" font-size="32.8" text-anchor="end">POLA1</text>
<rect x="887.1" y="1920.69" width="93.6" height="28.3" fill="#ff0000"/>
<rect x="980.7" y="1920.69" width="69.8" height="28.3" fill="#0000ff"/>
<line x1="783.2" y1="1934.84" x2="791.4" y2="1934.84" stroke="#000" stroke-width="3.8"/>
<text transform="translate(778.3 1946.44) scale(0.83 1)" font-size="32.8" text-anchor="end">DNA2</text>
<rect x="891.8" y="1955.68" width="88.9" height="28.3" fill="#ff0000"/>
<rect x="980.7" y="1955.68" width="76" height="28.3" fill="#0000ff"/>
<line x1="783.2" y1="1969.83" x2="791.4" y2="1969.83" stroke="#000" stroke-width="3.8"/>
<text transform="translate(778.3 1981.43) scale(0.84 1)" font-size="32.8" text-anchor="end">RFC4</text>
<rect x="873.9" y="1990.67" width="106.8" height="28.3" fill="#ff0000"/>
<rect x="980.7" y="1990.67" width="85.4" height="28.3" fill="#0000ff"/>
<line x1="783.2" y1="2004.82" x2="791.4" y2="2004.82" stroke="#000" stroke-width="3.8"/>
<text transform="translate(778.3 2016.42) scale(0.83 1)" font-size="32.8" text-anchor="end">STEAP3</text>
<rect x="878" y="2025.66" width="102.7" height="28.3" fill="#ff0000"/>
<rect x="980.7" y="2025.66" width="124.7" height="28.3" fill="#0000ff"/>
<line x1="783.2" y1="2039.81" x2="791.4" y2="2039.81" stroke="#000" stroke-width="3.8"/>
<text transform="translate(778.3 2051.41) scale(0.83 1)" font-size="32.8" text-anchor="end">CCNB2</text>
<rect x="894.7" y="2060.65" width="86" height="28.3" fill="#ff0000"/>
<rect x="980.7" y="2060.65" width="64" height="28.3" fill="#0000ff"/>
<line x1="783.2" y1="2074.8" x2="791.4" y2="2074.8" stroke="#000" stroke-width="3.8"/>
<text transform="translate(778.3 2086.4) scale(0.83 1)" font-size="32.8" text-anchor="end">GTSE1</text>
<rect x="916.2" y="2095.64" width="64.5" height="28.3" fill="#ff0000"/>
<rect x="980.7" y="2095.64" width="55.8" height="28.3" fill="#0000ff"/>
<line x1="783.2" y1="2109.79" x2="791.4" y2="2109.79" stroke="#000" stroke-width="3.8"/>
<text transform="translate(778.3 2121.39) scale(0.84 1)" font-size="32.8" text-anchor="end">EIF4EBP1</text>
<rect x="906.8" y="2130.63" width="73.9" height="28.3" fill="#0000ff"/>
<rect x="980.7" y="2130.63" width="86.3" height="28.3" fill="#ff0000"/>
<line x1="783.2" y1="2144.78" x2="791.4" y2="2144.78" stroke="#000" stroke-width="3.8"/>
<text transform="translate(778.3 2156.38) scale(0.83 1)" font-size="32.8" text-anchor="end">ARHGEF37</text>
<rect x="906.2" y="2165.62" width="74.5" height="28.3" fill="#ff0000"/>
<rect x="980.7" y="2165.62" width="69.8" height="28.3" fill="#0000ff"/>
<line x1="783.2" y1="2179.77" x2="791.4" y2="2179.77" stroke="#000" stroke-width="3.8"/>
<text transform="translate(778.3 2191.37) scale(0.83 1)" font-size="32.8" text-anchor="end">ARHGAP20</text>
<rect x="885.3" y="2200.61" width="95.4" height="28.3" fill="#ff0000"/>
<rect x="980.7" y="2200.61" width="77.5" height="28.3" fill="#0000ff"/>
<line x1="783.2" y1="2214.76" x2="791.4" y2="2214.76" stroke="#000" stroke-width="3.8"/>
<text transform="translate(778.3 2226.36) scale(0.83 1)" font-size="32.8" text-anchor="end">ARHGEF39</text>
<rect x="866.9" y="2235.6" width="113.8" height="28.3" fill="#ff0000"/>
<rect x="980.7" y="2235.6" width="79.2" height="28.3" fill="#0000ff"/>
<line x1="783.2" y1="2249.75" x2="791.4" y2="2249.75" stroke="#000" stroke-width="3.8"/>
<text transform="translate(778.3 2261.35) scale(0.84 1)" font-size="32.8" text-anchor="end">ARHGAP11A</text>
<rect x="857.2" y="2270.59" width="123.5" height="28.3" fill="#ff0000"/>
<rect x="980.7" y="2270.59" width="141.7" height="28.3" fill="#0000ff"/>
<line x1="783.2" y1="2284.74" x2="791.4" y2="2284.74" stroke="#000" stroke-width="3.8"/>
<text transform="translate(778.3 2296.34) scale(0.83 1)" font-size="32.8" text-anchor="end">LOC440461</text>
<rect x="810.5" y="2305.58" width="170.2" height="28.3" fill="#ff0000"/>
<rect x="980.7" y="2305.58" width="105.6" height="28.3" fill="#0000ff"/>
<line x1="783.2" y1="2319.73" x2="791.4" y2="2319.73" stroke="#000" stroke-width="3.8"/>
<text transform="translate(778.3 2331.33) scale(0.84 1)" font-size="32.8" text-anchor="end">ARHGAP11B</text>
<line x1="791.4" y1="1004.8" x2="791.4" y2="2339" stroke="#000" stroke-width="4.1"/>
<line x1="980.7" y1="1007" x2="980.7" y2="2336" stroke="#000" stroke-width="4.1"/>
<line x1="789.4" y1="2336.8" x2="1140.4" y2="2336.8" stroke="#000" stroke-width="4.5"/>
<line x1="790.95" y1="2336.8" x2="790.95" y2="2346.8" stroke="#000" stroke-width="3.8"/>
<text transform="translate(790.15 2380) scale(0.77 1)" font-size="33" text-anchor="middle">-6</text>
<line x1="854.15" y1="2336.8" x2="854.15" y2="2346.8" stroke="#000" stroke-width="3.8"/>
<text transform="translate(853.35 2380) scale(0.77 1)" font-size="33" text-anchor="middle">-4</text>
<line x1="917.35" y1="2336.8" x2="917.35" y2="2346.8" stroke="#000" stroke-width="3.8"/>
<text transform="translate(916.55 2380) scale(0.77 1)" font-size="33" text-anchor="middle">-2</text>
<line x1="980.55" y1="2336.8" x2="980.55" y2="2346.8" stroke="#000" stroke-width="3.8"/>
<text transform="translate(980.55 2380) scale(0.77 1)" font-size="33" text-anchor="middle">0</text>
<line x1="1043.75" y1="2336.8" x2="1043.75" y2="2346.8" stroke="#000" stroke-width="3.8"/>
<text transform="translate(1043.75 2380) scale(0.77 1)" font-size="33" text-anchor="middle">2</text>
<line x1="1106.95" y1="2336.8" x2="1106.95" y2="2346.8" stroke="#000" stroke-width="3.8"/>
<text transform="translate(1106.95 2380) scale(0.77 1)" font-size="33" text-anchor="middle">4</text>
<line x1="1139.4" y1="2328.3" x2="1139.4" y2="2345.3" stroke="#000" stroke-width="3.6"/>
<line x1="1158.8" y1="2336.8" x2="1246.8" y2="2336.8" stroke="#000" stroke-width="4.5"/>
<line x1="1160" y1="2328.3" x2="1160" y2="2346.8" stroke="#000" stroke-width="3.8"/>
<line x1="1160.3" y1="2336.8" x2="1160.3" y2="2346.8" stroke="#000" stroke-width="3.8"/>
<text transform="translate(1160.3 2380) scale(0.77 1)" font-size="33" text-anchor="middle">5</text>
<line x1="1188.5" y1="2336.8" x2="1188.5" y2="2346.8" stroke="#000" stroke-width="3.8"/>
<text transform="translate(1188.5 2380) scale(0.77 1)" font-size="33" text-anchor="middle">10</text>
<line x1="1216.6" y1="2336.8" x2="1216.6" y2="2346.8" stroke="#000" stroke-width="3.8"/>
<text transform="translate(1216.6 2380) scale(0.77 1)" font-size="33" text-anchor="middle">15</text>
<line x1="1244.8" y1="2336.8" x2="1244.8" y2="2346.8" stroke="#000" stroke-width="3.8"/>
<text transform="translate(1244.8 2380) scale(0.77 1)" font-size="33" text-anchor="middle">20</text>
<text transform="translate(994.3 2408.3) scale(0.86 1)" font-size="32.5">log</text>
<text transform="translate(1031 2394.7) scale(0.77 1)" font-size="24.3">2</text>
<rect x="1147.4" y="1013.5" width="34.5" height="22.7" fill="#ff0000"/>
<rect x="1147.4" y="1050.4" width="34.5" height="22.5" fill="#0000ff"/>
<text transform="translate(1196 1034.2) scale(0.78 1)" font-size="30.5">S/Y</text>
<text transform="translate(1196 1071.2) scale(0.78 1)" font-size="30.5">SC/S</text>
<rect x="1417.1" y="1009.15" width="49" height="28.3" fill="#a09fa4"/>
<line x1="1268.3" y1="1023.3" x2="1276.9" y2="1023.3" stroke="#000" stroke-width="4.8"/>
<rect x="1429.4" y="1044.2" width="36.7" height="28.3" fill="#a09fa4"/>
<line x1="1268.3" y1="1058.35" x2="1276.9" y2="1058.35" stroke="#000" stroke-width="4.8"/>
<rect x="1430.6" y="1079.25" width="35.5" height="28.3" fill="#a09fa4"/>
<line x1="1268.3" y1="1093.4" x2="1276.9" y2="1093.4" stroke="#000" stroke-width="4.8"/>
<rect x="1430.6" y="1114.3" width="35.5" height="28.3" fill="#a09fa4"/>
<line x1="1268.3" y1="1128.45" x2="1276.9" y2="1128.45" stroke="#000" stroke-width="4.8"/>
<rect x="1411" y="1149.35" width="55.1" height="28.3" fill="#a09fa4"/>
<line x1="1268.3" y1="1163.5" x2="1276.9" y2="1163.5" stroke="#000" stroke-width="4.8"/>
<rect x="1412.4" y="1184.4" width="53.7" height="28.3" fill="#a09fa4"/>
<line x1="1268.3" y1="1198.55" x2="1276.9" y2="1198.55" stroke="#000" stroke-width="4.8"/>
<rect x="1433.3" y="1219.45" width="32.8" height="28.3" fill="#a09fa4"/>
<line x1="1268.3" y1="1233.6" x2="1276.9" y2="1233.6" stroke="#000" stroke-width="4.8"/>
<rect x="1430.9" y="1254.5" width="35.2" height="28.3" fill="#a09fa4"/>
<line x1="1268.3" y1="1268.65" x2="1276.9" y2="1268.65" stroke="#000" stroke-width="4.8"/>
<rect x="1466.1" y="1289.55" width="38.2" height="28.3" fill="#a09fa4"/>
<line x1="1268.3" y1="1303.7" x2="1276.9" y2="1303.7" stroke="#000" stroke-width="4.8"/>
<rect x="1466.1" y="1324.6" width="41.4" height="28.3" fill="#a09fa4"/>
<line x1="1268.3" y1="1338.75" x2="1276.9" y2="1338.75" stroke="#000" stroke-width="4.8"/>
<rect x="1425.9" y="1359.65" width="40.2" height="28.3" fill="#a09fa4"/>
<line x1="1268.3" y1="1373.8" x2="1276.9" y2="1373.8" stroke="#000" stroke-width="4.8"/>
<rect x="1423.9" y="1394.7" width="42.2" height="28.3" fill="#a09fa4"/>
<line x1="1268.3" y1="1408.85" x2="1276.9" y2="1408.85" stroke="#000" stroke-width="4.8"/>
<rect x="1421.2" y="1429.75" width="44.9" height="28.3" fill="#a09fa4"/>
<line x1="1268.3" y1="1443.9" x2="1276.9" y2="1443.9" stroke="#000" stroke-width="4.8"/>
<rect x="1427.1" y="1464.8" width="39" height="28.3" fill="#a09fa4"/>
<line x1="1268.3" y1="1478.95" x2="1276.9" y2="1478.95" stroke="#000" stroke-width="4.8"/>
<rect x="1466.1" y="1499.85" width="35.2" height="28.3" fill="#a09fa4"/>
<line x1="1268.3" y1="1514" x2="1276.9" y2="1514" stroke="#000" stroke-width="4.8"/>
<rect x="1425.3" y="1534.9" width="40.8" height="28.3" fill="#a09fa4"/>
<line x1="1268.3" y1="1549.05" x2="1276.9" y2="1549.05" stroke="#000" stroke-width="4.8"/>
<rect x="1418.3" y="1569.95" width="47.8" height="28.3" fill="#a09fa4"/>
<line x1="1268.3" y1="1584.1" x2="1276.9" y2="1584.1" stroke="#000" stroke-width="4.8"/>
<rect x="1466.1" y="1605" width="90.1" height="28.3" fill="#a09fa4"/>
<line x1="1268.3" y1="1619.15" x2="1276.9" y2="1619.15" stroke="#000" stroke-width="4.8"/>
<rect x="1428.3" y="1640.05" width="37.8" height="28.3" fill="#a09fa4"/>
<line x1="1268.3" y1="1654.2" x2="1276.9" y2="1654.2" stroke="#000" stroke-width="4.8"/>
<rect x="1423.6" y="1675.1" width="42.5" height="28.3" fill="#a09fa4"/>
<line x1="1268.3" y1="1689.25" x2="1276.9" y2="1689.25" stroke="#000" stroke-width="4.8"/>
<rect x="1425" y="1710.15" width="41.1" height="28.3" fill="#a09fa4"/>
<line x1="1268.3" y1="1724.3" x2="1276.9" y2="1724.3" stroke="#000" stroke-width="4.8"/>
<rect x="1466.1" y="1745.2" width="150" height="28.3" fill="#a09fa4"/>
<line x1="1268.3" y1="1759.35" x2="1276.9" y2="1759.35" stroke="#000" stroke-width="4.8"/>
<rect x="1424.4" y="1780.25" width="41.7" height="28.3" fill="#a09fa4"/>
<line x1="1268.3" y1="1794.4" x2="1276.9" y2="1794.4" stroke="#000" stroke-width="4.8"/>
<rect x="1418" y="1815.3" width="48.1" height="28.3" fill="#a09fa4"/>
<line x1="1268.3" y1="1829.45" x2="1276.9" y2="1829.45" stroke="#000" stroke-width="4.8"/>
<rect x="1426.2" y="1850.35" width="39.9" height="28.3" fill="#a09fa4"/>
<line x1="1268.3" y1="1864.5" x2="1276.9" y2="1864.5" stroke="#000" stroke-width="4.8"/>
<rect x="1417.1" y="1885.4" width="49" height="28.3" fill="#a09fa4"/>
<line x1="1268.3" y1="1899.55" x2="1276.9" y2="1899.55" stroke="#000" stroke-width="4.8"/>
<rect x="1422.1" y="1920.45" width="44" height="28.3" fill="#a09fa4"/>
<line x1="1268.3" y1="1934.6" x2="1276.9" y2="1934.6" stroke="#000" stroke-width="4.8"/>
<rect x="1428" y="1955.5" width="38.1" height="28.3" fill="#a09fa4"/>
<line x1="1268.3" y1="1969.65" x2="1276.9" y2="1969.65" stroke="#000" stroke-width="4.8"/>
<rect x="1425.3" y="1990.55" width="40.8" height="28.3" fill="#a09fa4"/>
<line x1="1268.3" y1="2004.7" x2="1276.9" y2="2004.7" stroke="#000" stroke-width="4.8"/>
<rect x="1466.1" y="2025.6" width="41.4" height="28.3" fill="#a09fa4"/>
<line x1="1268.3" y1="2039.75" x2="1276.9" y2="2039.75" stroke="#000" stroke-width="4.8"/>
<rect x="1421.8" y="2060.65" width="44.3" height="28.3" fill="#a09fa4"/>
<line x1="1268.3" y1="2074.8" x2="1276.9" y2="2074.8" stroke="#000" stroke-width="4.8"/>
<rect x="1466.1" y="2095.7" width="29.7" height="28.3" fill="#a09fa4"/>
<line x1="1268.3" y1="2109.85" x2="1276.9" y2="2109.85" stroke="#000" stroke-width="4.8"/>
<rect x="1466.1" y="2130.75" width="39.6" height="28.3" fill="#a09fa4"/>
<line x1="1268.3" y1="2144.9" x2="1276.9" y2="2144.9" stroke="#000" stroke-width="4.8"/>
<rect x="1466.1" y="2165.8" width="32" height="28.3" fill="#a09fa4"/>
<line x1="1268.3" y1="2179.95" x2="1276.9" y2="2179.95" stroke="#000" stroke-width="4.8"/>
<rect x="1466.1" y="2200.85" width="28.2" height="28.3" fill="#a09fa4"/>
<line x1="1268.3" y1="2215" x2="1276.9" y2="2215" stroke="#000" stroke-width="4.8"/>
<rect x="1466.1" y="2235.9" width="24.4" height="28.3" fill="#a09fa4"/>
<line x1="1268.3" y1="2250.05" x2="1276.9" y2="2250.05" stroke="#000" stroke-width="4.8"/>
<rect x="1466.1" y="2270.95" width="38.2" height="28.3" fill="#a09fa4"/>
<line x1="1268.3" y1="2285.1" x2="1276.9" y2="2285.1" stroke="#000" stroke-width="4.8"/>
<rect x="1466.1" y="2306" width="22" height="28.3" fill="#a09fa4"/>
<line x1="1268.3" y1="2320.15" x2="1276.9" y2="2320.15" stroke="#000" stroke-width="4.8"/>
<line x1="1276.9" y1="1002.3" x2="1276.9" y2="2339" stroke="#000" stroke-width="4.2"/>
<line x1="1466.1" y1="1005.3" x2="1466.1" y2="2336" stroke="#000" stroke-width="4.2"/>
<line x1="1274.9" y1="2336.8" x2="1625.6" y2="2336.8" stroke="#000" stroke-width="4.5"/>
<line x1="1276.8" y1="2336.8" x2="1276.8" y2="2346.8" stroke="#000" stroke-width="3.8"/>
<text transform="translate(1276 2380) scale(0.77 1)" font-size="33" text-anchor="middle">-6</text>
<line x1="1339.9" y1="2336.8" x2="1339.9" y2="2346.8" stroke="#000" stroke-width="3.8"/>
<text transform="translate(1339.1 2380) scale(0.77 1)" font-size="33" text-anchor="middle">-4</text>
<line x1="1403" y1="2336.8" x2="1403" y2="2346.8" stroke="#000" stroke-width="3.8"/>
<text transform="translate(1402.2 2380) scale(0.77 1)" font-size="33" text-anchor="middle">-2</text>
<line x1="1466.1" y1="2336.8" x2="1466.1" y2="2346.8" stroke="#000" stroke-width="3.8"/>
<text transform="translate(1466.1 2380) scale(0.77 1)" font-size="33" text-anchor="middle">0</text>
<line x1="1529.2" y1="2336.8" x2="1529.2" y2="2346.8" stroke="#000" stroke-width="3.8"/>
<text transform="translate(1529.2 2380) scale(0.77 1)" font-size="33" text-anchor="middle">2</text>
<line x1="1592.3" y1="2336.8" x2="1592.3" y2="2346.8" stroke="#000" stroke-width="3.8"/>
<text transform="translate(1592.3 2380) scale(0.77 1)" font-size="33" text-anchor="middle">4</text>
<line x1="1624.6" y1="2328.3" x2="1624.6" y2="2345.3" stroke="#000" stroke-width="3.6"/>
<line x1="1643.2" y1="2336.8" x2="1732" y2="2336.8" stroke="#000" stroke-width="4.5"/>
<line x1="1644.4" y1="2328.3" x2="1644.4" y2="2346.8" stroke="#000" stroke-width="3.8"/>
<line x1="1644.5" y1="2336.8" x2="1644.5" y2="2346.8" stroke="#000" stroke-width="3.8"/>
<text transform="translate(1644.5 2380) scale(0.77 1)" font-size="33" text-anchor="middle">5</text>
<line x1="1673.3" y1="2336.8" x2="1673.3" y2="2346.8" stroke="#000" stroke-width="3.8"/>
<text transform="translate(1673.3 2380) scale(0.77 1)" font-size="33" text-anchor="middle">10</text>
<line x1="1702" y1="2336.8" x2="1702" y2="2346.8" stroke="#000" stroke-width="3.8"/>
<text transform="translate(1702 2380) scale(0.77 1)" font-size="33" text-anchor="middle">15</text>
<line x1="1730.2" y1="2336.8" x2="1730.2" y2="2346.8" stroke="#000" stroke-width="3.8"/>
<text transform="translate(1730.2 2380) scale(0.77 1)" font-size="33" text-anchor="middle">20</text>
<text transform="translate(1477.8 2408.3) scale(0.86 1)" font-size="32.5">log</text>
<text transform="translate(1516.5 2394.7) scale(0.77 1)" font-size="24.3">2</text>
<rect x="1588.8" y="1013.8" width="35.8" height="20.8" fill="#a09fa4"/>
<text transform="translate(1640.5 1034.3) scale(0.79 1)" font-size="28.4">SC/Y</text>
</svg>
</body></html>
